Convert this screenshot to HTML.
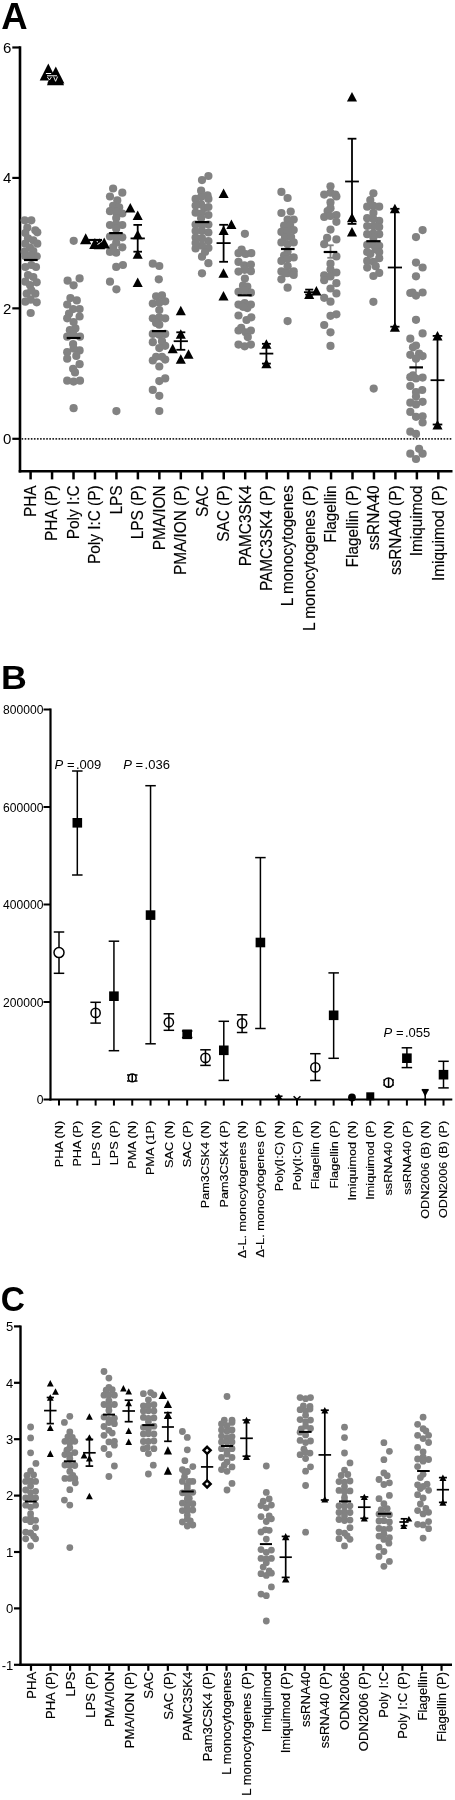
<!DOCTYPE html>
<html><head><meta charset="utf-8"><style>
html,body{margin:0;padding:0;background:#fff;}
body{width:455px;height:1800px;overflow:hidden;}
svg{display:block;font-family:"Liberation Sans",sans-serif;will-change:transform;}
</style></head><body>
<svg width="455" height="1800" viewBox="0 0 455 1800">
<rect width="455" height="1800" fill="#fff"/>
<text x="1.3" y="28.6" font-size="36.5" text-anchor="start" font-weight="bold">A</text>
<line x1="20" y1="46.3" x2="20" y2="472.5" stroke="#000" stroke-width="2.6"/>
<line x1="12.3" y1="47.48" x2="20" y2="47.48" stroke="#000" stroke-width="2.2"/>
<text x="11.3" y="52.88" font-size="15" text-anchor="end" font-weight="normal">6</text>
<line x1="12.3" y1="177.92" x2="20" y2="177.92" stroke="#000" stroke-width="2.2"/>
<text x="11.3" y="183.32" font-size="15" text-anchor="end" font-weight="normal">4</text>
<line x1="12.3" y1="308.36" x2="20" y2="308.36" stroke="#000" stroke-width="2.2"/>
<text x="11.3" y="313.76" font-size="15" text-anchor="end" font-weight="normal">2</text>
<line x1="12.3" y1="438.8" x2="20" y2="438.8" stroke="#000" stroke-width="2.2"/>
<text x="11.3" y="444.2" font-size="15" text-anchor="end" font-weight="normal">0</text>
<line x1="18.7" y1="471.3" x2="452.5" y2="471.3" stroke="#000" stroke-width="2.6"/>
<line x1="21.6" y1="438.9" x2="452.5" y2="438.9" stroke="#222" stroke-width="1.6" stroke-dasharray="1.6 1.48"/>
<line x1="30.6" y1="471" x2="30.6" y2="479.4" stroke="#000" stroke-width="2.5"/>
<text transform="translate(35.9,485.4) rotate(-90) scale(1,1.05)" stroke="#000" stroke-width="0.15" font-size="15.4" text-anchor="end" font-weight="normal">PHA</text>
<line x1="52.06" y1="471" x2="52.06" y2="479.4" stroke="#000" stroke-width="2.5"/>
<text transform="translate(57.36,485.4) rotate(-90) scale(1,1.05)" stroke="#000" stroke-width="0.15" font-size="15.4" text-anchor="end" font-weight="normal">PHA (P)</text>
<line x1="73.52" y1="471" x2="73.52" y2="479.4" stroke="#000" stroke-width="2.5"/>
<text transform="translate(78.82,485.4) rotate(-90) scale(1,1.05)" stroke="#000" stroke-width="0.15" font-size="15.4" text-anchor="end" font-weight="normal">Poly I:C</text>
<line x1="94.98" y1="471" x2="94.98" y2="479.4" stroke="#000" stroke-width="2.5"/>
<text transform="translate(100.28,485.4) rotate(-90) scale(1,1.05)" stroke="#000" stroke-width="0.15" font-size="15.4" text-anchor="end" font-weight="normal">Poly I:C (P)</text>
<line x1="116.44" y1="471" x2="116.44" y2="479.4" stroke="#000" stroke-width="2.5"/>
<text transform="translate(121.74,485.4) rotate(-90) scale(1,1.05)" stroke="#000" stroke-width="0.15" font-size="15.4" text-anchor="end" font-weight="normal">LPS</text>
<line x1="137.9" y1="471" x2="137.9" y2="479.4" stroke="#000" stroke-width="2.5"/>
<text transform="translate(143.2,485.4) rotate(-90) scale(1,1.05)" stroke="#000" stroke-width="0.15" font-size="15.4" text-anchor="end" font-weight="normal">LPS (P)</text>
<line x1="159.36" y1="471" x2="159.36" y2="479.4" stroke="#000" stroke-width="2.5"/>
<text transform="translate(164.66,485.4) rotate(-90) scale(1,1.05)" stroke="#000" stroke-width="0.15" font-size="15.4" text-anchor="end" font-weight="normal">PMA/ION</text>
<line x1="180.82" y1="471" x2="180.82" y2="479.4" stroke="#000" stroke-width="2.5"/>
<text transform="translate(186.12,485.4) rotate(-90) scale(1,1.05)" stroke="#000" stroke-width="0.15" font-size="15.4" text-anchor="end" font-weight="normal">PMA/ION (P)</text>
<line x1="202.28" y1="471" x2="202.28" y2="479.4" stroke="#000" stroke-width="2.5"/>
<text transform="translate(207.58,485.4) rotate(-90) scale(1,1.05)" stroke="#000" stroke-width="0.15" font-size="15.4" text-anchor="end" font-weight="normal">SAC</text>
<line x1="223.74" y1="471" x2="223.74" y2="479.4" stroke="#000" stroke-width="2.5"/>
<text transform="translate(229.04,485.4) rotate(-90) scale(1,1.05)" stroke="#000" stroke-width="0.15" font-size="15.4" text-anchor="end" font-weight="normal">SAC (P)</text>
<line x1="245.2" y1="471" x2="245.2" y2="479.4" stroke="#000" stroke-width="2.5"/>
<text transform="translate(250.5,485.4) rotate(-90) scale(1,1.05)" stroke="#000" stroke-width="0.15" font-size="15.4" text-anchor="end" font-weight="normal">PAMC3SK4</text>
<line x1="266.66" y1="471" x2="266.66" y2="479.4" stroke="#000" stroke-width="2.5"/>
<text transform="translate(271.96,485.4) rotate(-90) scale(1,1.05)" stroke="#000" stroke-width="0.15" font-size="15.4" text-anchor="end" font-weight="normal">PAMC3SK4 (P)</text>
<line x1="288.12" y1="471" x2="288.12" y2="479.4" stroke="#000" stroke-width="2.5"/>
<text transform="translate(293.42,485.4) rotate(-90) scale(1,1.05)" stroke="#000" stroke-width="0.15" font-size="15.4" text-anchor="end" font-weight="normal">L monocytogenes</text>
<line x1="309.58" y1="471" x2="309.58" y2="479.4" stroke="#000" stroke-width="2.5"/>
<text transform="translate(314.88,485.4) rotate(-90) scale(1,1.05)" stroke="#000" stroke-width="0.15" font-size="15.4" text-anchor="end" font-weight="normal">L monocytogenes (P)</text>
<line x1="331.04" y1="471" x2="331.04" y2="479.4" stroke="#000" stroke-width="2.5"/>
<text transform="translate(336.34,485.4) rotate(-90) scale(1,1.05)" stroke="#000" stroke-width="0.15" font-size="15.4" text-anchor="end" font-weight="normal">Flagellin</text>
<line x1="352.5" y1="471" x2="352.5" y2="479.4" stroke="#000" stroke-width="2.5"/>
<text transform="translate(357.8,485.4) rotate(-90) scale(1,1.05)" stroke="#000" stroke-width="0.15" font-size="15.4" text-anchor="end" font-weight="normal">Flagellin (P)</text>
<line x1="373.96" y1="471" x2="373.96" y2="479.4" stroke="#000" stroke-width="2.5"/>
<text transform="translate(379.26,485.4) rotate(-90) scale(1,1.05)" stroke="#000" stroke-width="0.15" font-size="15.4" text-anchor="end" font-weight="normal">ssRNA40</text>
<line x1="395.42" y1="471" x2="395.42" y2="479.4" stroke="#000" stroke-width="2.5"/>
<text transform="translate(400.72,485.4) rotate(-90) scale(1,1.05)" stroke="#000" stroke-width="0.15" font-size="15.4" text-anchor="end" font-weight="normal">ssRNA40 (P)</text>
<line x1="416.88" y1="471" x2="416.88" y2="479.4" stroke="#000" stroke-width="2.5"/>
<text transform="translate(422.18,485.4) rotate(-90) scale(1,1.05)" stroke="#000" stroke-width="0.15" font-size="15.4" text-anchor="end" font-weight="normal">Imiquimod</text>
<line x1="438.34" y1="471" x2="438.34" y2="479.4" stroke="#000" stroke-width="2.5"/>
<text transform="translate(443.64,485.4) rotate(-90) scale(1,1.05)" stroke="#000" stroke-width="0.15" font-size="15.4" text-anchor="end" font-weight="normal">Imiquimod (P)</text>
<circle cx="24.7" cy="220.3" r="4.1" fill="#828282"/>
<circle cx="31.3" cy="220.3" r="4.1" fill="#828282"/>
<circle cx="27.3" cy="227.7" r="4.1" fill="#828282"/>
<circle cx="35.3" cy="230.3" r="4.1" fill="#828282"/>
<circle cx="37.3" cy="232.3" r="4.1" fill="#828282"/>
<circle cx="25.3" cy="233" r="4.1" fill="#828282"/>
<circle cx="28" cy="238.3" r="4.1" fill="#828282"/>
<circle cx="33.3" cy="240.3" r="4.1" fill="#828282"/>
<circle cx="37.3" cy="243.7" r="4.1" fill="#828282"/>
<circle cx="25.3" cy="243.7" r="4.1" fill="#828282"/>
<circle cx="30" cy="247.7" r="4.1" fill="#828282"/>
<circle cx="24.7" cy="251.7" r="4.1" fill="#828282"/>
<circle cx="33.3" cy="251" r="4.1" fill="#828282"/>
<circle cx="36.7" cy="256.3" r="4.1" fill="#828282"/>
<circle cx="25.3" cy="256.3" r="4.1" fill="#828282"/>
<circle cx="30.7" cy="255.7" r="4.1" fill="#828282"/>
<circle cx="36" cy="267" r="4.1" fill="#828282"/>
<circle cx="25.3" cy="267" r="4.1" fill="#828282"/>
<circle cx="31.3" cy="265" r="4.1" fill="#828282"/>
<circle cx="28" cy="275" r="4.1" fill="#828282"/>
<circle cx="33.3" cy="277" r="4.1" fill="#828282"/>
<circle cx="25.3" cy="281.7" r="4.1" fill="#828282"/>
<circle cx="36.7" cy="282.3" r="4.1" fill="#828282"/>
<circle cx="30" cy="285" r="4.1" fill="#828282"/>
<circle cx="35.3" cy="293.7" r="4.1" fill="#828282"/>
<circle cx="26.7" cy="293.7" r="4.1" fill="#828282"/>
<circle cx="31.3" cy="290.3" r="4.1" fill="#828282"/>
<circle cx="25.3" cy="301.7" r="4.1" fill="#828282"/>
<circle cx="36.7" cy="302.3" r="4.1" fill="#828282"/>
<circle cx="30.7" cy="299.7" r="4.1" fill="#828282"/>
<circle cx="30.7" cy="313" r="4.1" fill="#828282"/>
<circle cx="73.7" cy="240.8" r="4.1" fill="#828282"/>
<circle cx="67.6" cy="280.7" r="4.1" fill="#828282"/>
<circle cx="79.6" cy="278.4" r="4.1" fill="#828282"/>
<circle cx="73.6" cy="285.3" r="4.1" fill="#828282"/>
<circle cx="70.4" cy="298.1" r="4.1" fill="#828282"/>
<circle cx="76.8" cy="300.4" r="4.1" fill="#828282"/>
<circle cx="67.2" cy="304.5" r="4.1" fill="#828282"/>
<circle cx="73.1" cy="309.1" r="4.1" fill="#828282"/>
<circle cx="79.6" cy="309.1" r="4.1" fill="#828282"/>
<circle cx="69" cy="313.7" r="4.1" fill="#828282"/>
<circle cx="67.2" cy="318.3" r="4.1" fill="#828282"/>
<circle cx="79.6" cy="316.5" r="4.1" fill="#828282"/>
<circle cx="73.6" cy="322" r="4.1" fill="#828282"/>
<circle cx="75.4" cy="328.4" r="4.1" fill="#828282"/>
<circle cx="69.9" cy="330.2" r="4.1" fill="#828282"/>
<circle cx="67.2" cy="336.7" r="4.1" fill="#828282"/>
<circle cx="80" cy="336.7" r="4.1" fill="#828282"/>
<circle cx="73.6" cy="334.8" r="4.1" fill="#828282"/>
<circle cx="73.1" cy="344" r="4.1" fill="#828282"/>
<circle cx="67.2" cy="352.2" r="4.1" fill="#828282"/>
<circle cx="79.6" cy="350.4" r="4.1" fill="#828282"/>
<circle cx="73.6" cy="348.6" r="4.1" fill="#828282"/>
<circle cx="67.2" cy="358.7" r="4.1" fill="#828282"/>
<circle cx="76.3" cy="355.9" r="4.1" fill="#828282"/>
<circle cx="79.6" cy="364.2" r="4.1" fill="#828282"/>
<circle cx="73.1" cy="368.8" r="4.1" fill="#828282"/>
<circle cx="75" cy="372.4" r="4.1" fill="#828282"/>
<circle cx="67.2" cy="380.7" r="4.1" fill="#828282"/>
<circle cx="73.6" cy="381.6" r="4.1" fill="#828282"/>
<circle cx="80" cy="380.7" r="4.1" fill="#828282"/>
<circle cx="73.6" cy="408.2" r="4.1" fill="#828282"/>
<circle cx="113.1" cy="188.5" r="4.1" fill="#828282"/>
<circle cx="122.3" cy="192.7" r="4.1" fill="#828282"/>
<circle cx="110" cy="196.5" r="4.1" fill="#828282"/>
<circle cx="117.3" cy="200.4" r="4.1" fill="#828282"/>
<circle cx="113.1" cy="205.8" r="4.1" fill="#828282"/>
<circle cx="119.2" cy="207.3" r="4.1" fill="#828282"/>
<circle cx="110" cy="211.2" r="4.1" fill="#828282"/>
<circle cx="122.3" cy="213.5" r="4.1" fill="#828282"/>
<circle cx="116.2" cy="211.9" r="4.1" fill="#828282"/>
<circle cx="116.2" cy="218.1" r="4.1" fill="#828282"/>
<circle cx="110" cy="225" r="4.1" fill="#828282"/>
<circle cx="122.3" cy="225" r="4.1" fill="#828282"/>
<circle cx="116.2" cy="224.2" r="4.1" fill="#828282"/>
<circle cx="116.2" cy="228.8" r="4.1" fill="#828282"/>
<circle cx="110" cy="236.5" r="4.1" fill="#828282"/>
<circle cx="122.3" cy="237.3" r="4.1" fill="#828282"/>
<circle cx="116.2" cy="237.3" r="4.1" fill="#828282"/>
<circle cx="116.2" cy="242.7" r="4.1" fill="#828282"/>
<circle cx="122.3" cy="247.3" r="4.1" fill="#828282"/>
<circle cx="110" cy="251.9" r="4.1" fill="#828282"/>
<circle cx="116.2" cy="252.7" r="4.1" fill="#828282"/>
<circle cx="113.1" cy="247.3" r="4.1" fill="#828282"/>
<circle cx="116.2" cy="266.9" r="4.1" fill="#828282"/>
<circle cx="122.9" cy="265" r="4.1" fill="#828282"/>
<circle cx="110" cy="281.7" r="4.1" fill="#828282"/>
<circle cx="116.4" cy="289.3" r="4.1" fill="#828282"/>
<circle cx="116.4" cy="411.1" r="4.1" fill="#828282"/>
<circle cx="152.8" cy="263.7" r="4.1" fill="#828282"/>
<circle cx="159.3" cy="266" r="4.1" fill="#828282"/>
<circle cx="158.8" cy="279.3" r="4.1" fill="#828282"/>
<circle cx="156.1" cy="296.3" r="4.1" fill="#828282"/>
<circle cx="162" cy="295.4" r="4.1" fill="#828282"/>
<circle cx="152.8" cy="303.6" r="4.1" fill="#828282"/>
<circle cx="165.2" cy="301.3" r="4.1" fill="#828282"/>
<circle cx="159.3" cy="302.7" r="4.1" fill="#828282"/>
<circle cx="159.3" cy="310" r="4.1" fill="#828282"/>
<circle cx="152.8" cy="318.3" r="4.1" fill="#828282"/>
<circle cx="165.2" cy="318.3" r="4.1" fill="#828282"/>
<circle cx="159.3" cy="317.4" r="4.1" fill="#828282"/>
<circle cx="159.3" cy="324.7" r="4.1" fill="#828282"/>
<circle cx="156.1" cy="322.9" r="4.1" fill="#828282"/>
<circle cx="152.8" cy="333.9" r="4.1" fill="#828282"/>
<circle cx="165.2" cy="333.9" r="4.1" fill="#828282"/>
<circle cx="159.3" cy="334.8" r="4.1" fill="#828282"/>
<circle cx="152.8" cy="342.2" r="4.1" fill="#828282"/>
<circle cx="162" cy="341.2" r="4.1" fill="#828282"/>
<circle cx="165.2" cy="345.8" r="4.1" fill="#828282"/>
<circle cx="159.3" cy="348.1" r="4.1" fill="#828282"/>
<circle cx="152.8" cy="360.5" r="4.1" fill="#828282"/>
<circle cx="162" cy="356.8" r="4.1" fill="#828282"/>
<circle cx="165.2" cy="359.6" r="4.1" fill="#828282"/>
<circle cx="156.1" cy="356.8" r="4.1" fill="#828282"/>
<circle cx="159.3" cy="366.5" r="4.1" fill="#828282"/>
<circle cx="159.3" cy="381.1" r="4.1" fill="#828282"/>
<circle cx="165.2" cy="378.4" r="4.1" fill="#828282"/>
<circle cx="152.8" cy="389.9" r="4.1" fill="#828282"/>
<circle cx="159.3" cy="395.8" r="4.1" fill="#828282"/>
<circle cx="159.3" cy="411" r="4.1" fill="#828282"/>
<circle cx="202" cy="180.1" r="4.1" fill="#828282"/>
<circle cx="208.4" cy="176" r="4.1" fill="#828282"/>
<circle cx="201.1" cy="190.7" r="4.1" fill="#828282"/>
<circle cx="207.5" cy="195.3" r="4.1" fill="#828282"/>
<circle cx="195.6" cy="198.9" r="4.1" fill="#828282"/>
<circle cx="208.4" cy="198.9" r="4.1" fill="#828282"/>
<circle cx="201.1" cy="197.1" r="4.1" fill="#828282"/>
<circle cx="201.1" cy="204.4" r="4.1" fill="#828282"/>
<circle cx="204.3" cy="208.1" r="4.1" fill="#828282"/>
<circle cx="195.6" cy="212.7" r="4.1" fill="#828282"/>
<circle cx="208.4" cy="215" r="4.1" fill="#828282"/>
<circle cx="201.1" cy="213.6" r="4.1" fill="#828282"/>
<circle cx="201.1" cy="218.2" r="4.1" fill="#828282"/>
<circle cx="195.6" cy="224.6" r="4.1" fill="#828282"/>
<circle cx="208.4" cy="224.6" r="4.1" fill="#828282"/>
<circle cx="202" cy="225.6" r="4.1" fill="#828282"/>
<circle cx="202" cy="231" r="4.1" fill="#828282"/>
<circle cx="195.6" cy="237.5" r="4.1" fill="#828282"/>
<circle cx="208.4" cy="241.1" r="4.1" fill="#828282"/>
<circle cx="202" cy="238.4" r="4.1" fill="#828282"/>
<circle cx="195.6" cy="248.5" r="4.1" fill="#828282"/>
<circle cx="208.4" cy="248" r="4.1" fill="#828282"/>
<circle cx="202" cy="245.7" r="4.1" fill="#828282"/>
<circle cx="202" cy="256.7" r="4.1" fill="#828282"/>
<circle cx="208.4" cy="263.2" r="4.1" fill="#828282"/>
<circle cx="202" cy="273.3" r="4.1" fill="#828282"/>
<circle cx="195.6" cy="205.5" r="4.1" fill="#828282"/>
<circle cx="208.4" cy="207" r="4.1" fill="#828282"/>
<circle cx="195.6" cy="231" r="4.1" fill="#828282"/>
<circle cx="208.4" cy="232.5" r="4.1" fill="#828282"/>
<circle cx="195.6" cy="243" r="4.1" fill="#828282"/>
<circle cx="205" cy="252" r="4.1" fill="#828282"/>
<circle cx="244.9" cy="233.8" r="4.1" fill="#828282"/>
<circle cx="241.6" cy="249.6" r="4.1" fill="#828282"/>
<circle cx="238.5" cy="253.1" r="4.1" fill="#828282"/>
<circle cx="245.6" cy="254" r="4.1" fill="#828282"/>
<circle cx="251.3" cy="253.1" r="4.1" fill="#828282"/>
<circle cx="238.5" cy="261.9" r="4.1" fill="#828282"/>
<circle cx="244.3" cy="265.4" r="4.1" fill="#828282"/>
<circle cx="250.9" cy="264.6" r="4.1" fill="#828282"/>
<circle cx="238.5" cy="271.6" r="4.1" fill="#828282"/>
<circle cx="250.9" cy="271.2" r="4.1" fill="#828282"/>
<circle cx="244.7" cy="269.8" r="4.1" fill="#828282"/>
<circle cx="244.9" cy="278.6" r="4.1" fill="#828282"/>
<circle cx="243" cy="285.7" r="4.1" fill="#828282"/>
<circle cx="247.3" cy="286.5" r="4.1" fill="#828282"/>
<circle cx="238.5" cy="291.8" r="4.1" fill="#828282"/>
<circle cx="250.9" cy="292.7" r="4.1" fill="#828282"/>
<circle cx="244.7" cy="290.5" r="4.1" fill="#828282"/>
<circle cx="238.5" cy="304.6" r="4.1" fill="#828282"/>
<circle cx="250.9" cy="304.6" r="4.1" fill="#828282"/>
<circle cx="244.7" cy="303.2" r="4.1" fill="#828282"/>
<circle cx="247.3" cy="308.1" r="4.1" fill="#828282"/>
<circle cx="243" cy="306.8" r="4.1" fill="#828282"/>
<circle cx="238.5" cy="315.5" r="4.1" fill="#828282"/>
<circle cx="246.5" cy="320" r="4.1" fill="#828282"/>
<circle cx="251.3" cy="317.3" r="4.1" fill="#828282"/>
<circle cx="241.2" cy="327.9" r="4.1" fill="#828282"/>
<circle cx="238.5" cy="330.5" r="4.1" fill="#828282"/>
<circle cx="250.9" cy="330.5" r="4.1" fill="#828282"/>
<circle cx="245.6" cy="332.3" r="4.1" fill="#828282"/>
<circle cx="247.8" cy="337.1" r="4.1" fill="#828282"/>
<circle cx="238.5" cy="344.6" r="4.1" fill="#828282"/>
<circle cx="244.7" cy="346.3" r="4.1" fill="#828282"/>
<circle cx="250.9" cy="344.6" r="4.1" fill="#828282"/>
<circle cx="281.4" cy="191.9" r="4.1" fill="#828282"/>
<circle cx="287.6" cy="198" r="4.1" fill="#828282"/>
<circle cx="281.4" cy="213" r="4.1" fill="#828282"/>
<circle cx="290.7" cy="211.6" r="4.1" fill="#828282"/>
<circle cx="287.6" cy="219.6" r="4.1" fill="#828282"/>
<circle cx="293.7" cy="219.6" r="4.1" fill="#828282"/>
<circle cx="284.1" cy="225.7" r="4.1" fill="#828282"/>
<circle cx="290.2" cy="225.7" r="4.1" fill="#828282"/>
<circle cx="281.4" cy="231.9" r="4.1" fill="#828282"/>
<circle cx="293.7" cy="230.1" r="4.1" fill="#828282"/>
<circle cx="287.6" cy="231" r="4.1" fill="#828282"/>
<circle cx="285" cy="237.1" r="4.1" fill="#828282"/>
<circle cx="291.1" cy="237.1" r="4.1" fill="#828282"/>
<circle cx="281.4" cy="242.4" r="4.1" fill="#828282"/>
<circle cx="293.7" cy="242.4" r="4.1" fill="#828282"/>
<circle cx="287.6" cy="244.2" r="4.1" fill="#828282"/>
<circle cx="287.6" cy="252.1" r="4.1" fill="#828282"/>
<circle cx="284.1" cy="255.6" r="4.1" fill="#828282"/>
<circle cx="293.7" cy="257.4" r="4.1" fill="#828282"/>
<circle cx="281.4" cy="260.9" r="4.1" fill="#828282"/>
<circle cx="287.6" cy="259.1" r="4.1" fill="#828282"/>
<circle cx="287.6" cy="266.2" r="4.1" fill="#828282"/>
<circle cx="281.4" cy="271.4" r="4.1" fill="#828282"/>
<circle cx="293.7" cy="271.4" r="4.1" fill="#828282"/>
<circle cx="287.6" cy="273.2" r="4.1" fill="#828282"/>
<circle cx="293.7" cy="275" r="4.1" fill="#828282"/>
<circle cx="281.4" cy="279.3" r="4.1" fill="#828282"/>
<circle cx="285" cy="273.2" r="4.1" fill="#828282"/>
<circle cx="287.6" cy="287.7" r="4.1" fill="#828282"/>
<circle cx="287.6" cy="321.1" r="4.1" fill="#828282"/>
<circle cx="330.5" cy="186.3" r="4.1" fill="#828282"/>
<circle cx="324.2" cy="194.6" r="4.1" fill="#828282"/>
<circle cx="330.5" cy="192.7" r="4.1" fill="#828282"/>
<circle cx="336.4" cy="196.5" r="4.1" fill="#828282"/>
<circle cx="335.4" cy="194.6" r="4.1" fill="#828282"/>
<circle cx="330.5" cy="202.4" r="4.1" fill="#828282"/>
<circle cx="330.5" cy="208.2" r="4.1" fill="#828282"/>
<circle cx="327.6" cy="211.1" r="4.1" fill="#828282"/>
<circle cx="324.2" cy="217" r="4.1" fill="#828282"/>
<circle cx="336.4" cy="215" r="4.1" fill="#828282"/>
<circle cx="330.5" cy="216" r="4.1" fill="#828282"/>
<circle cx="336.4" cy="221.8" r="4.1" fill="#828282"/>
<circle cx="330.5" cy="229.6" r="4.1" fill="#828282"/>
<circle cx="327.1" cy="237.9" r="4.1" fill="#828282"/>
<circle cx="336.4" cy="239.4" r="4.1" fill="#828282"/>
<circle cx="324.2" cy="244.2" r="4.1" fill="#828282"/>
<circle cx="336.4" cy="256.4" r="4.1" fill="#828282"/>
<circle cx="330.5" cy="263.7" r="4.1" fill="#828282"/>
<circle cx="330.5" cy="269.5" r="4.1" fill="#828282"/>
<circle cx="336.4" cy="272.5" r="4.1" fill="#828282"/>
<circle cx="324.2" cy="275.4" r="4.1" fill="#828282"/>
<circle cx="330.5" cy="276.4" r="4.1" fill="#828282"/>
<circle cx="324.2" cy="280.2" r="4.1" fill="#828282"/>
<circle cx="336.4" cy="283.2" r="4.1" fill="#828282"/>
<circle cx="330.5" cy="288.5" r="4.1" fill="#828282"/>
<circle cx="336.4" cy="293.4" r="4.1" fill="#828282"/>
<circle cx="324.2" cy="297.8" r="4.1" fill="#828282"/>
<circle cx="330.5" cy="301.7" r="4.1" fill="#828282"/>
<circle cx="330.5" cy="315.8" r="4.1" fill="#828282"/>
<circle cx="336.4" cy="314.3" r="4.1" fill="#828282"/>
<circle cx="324.2" cy="325" r="4.1" fill="#828282"/>
<circle cx="330.5" cy="332.3" r="4.1" fill="#828282"/>
<circle cx="330.5" cy="345.9" r="4.1" fill="#828282"/>
<circle cx="373.4" cy="193.3" r="4.1" fill="#828282"/>
<circle cx="370.3" cy="200" r="4.1" fill="#828282"/>
<circle cx="367.2" cy="206.7" r="4.1" fill="#828282"/>
<circle cx="379.2" cy="206.7" r="4.1" fill="#828282"/>
<circle cx="373.4" cy="205.8" r="4.1" fill="#828282"/>
<circle cx="373.4" cy="212.9" r="4.1" fill="#828282"/>
<circle cx="367.2" cy="218.2" r="4.1" fill="#828282"/>
<circle cx="379.2" cy="220.9" r="4.1" fill="#828282"/>
<circle cx="373.4" cy="219.1" r="4.1" fill="#828282"/>
<circle cx="373.4" cy="226.2" r="4.1" fill="#828282"/>
<circle cx="367.2" cy="234.2" r="4.1" fill="#828282"/>
<circle cx="379.2" cy="234.2" r="4.1" fill="#828282"/>
<circle cx="373.4" cy="233.3" r="4.1" fill="#828282"/>
<circle cx="373.4" cy="237.8" r="4.1" fill="#828282"/>
<circle cx="367.2" cy="244.9" r="4.1" fill="#828282"/>
<circle cx="379.2" cy="245.8" r="4.1" fill="#828282"/>
<circle cx="373.4" cy="244.9" r="4.1" fill="#828282"/>
<circle cx="375.7" cy="249.3" r="4.1" fill="#828282"/>
<circle cx="370.3" cy="253.8" r="4.1" fill="#828282"/>
<circle cx="367.2" cy="260.9" r="4.1" fill="#828282"/>
<circle cx="379.2" cy="258.2" r="4.1" fill="#828282"/>
<circle cx="373.4" cy="261.8" r="4.1" fill="#828282"/>
<circle cx="367.2" cy="267.6" r="4.1" fill="#828282"/>
<circle cx="375.7" cy="266.2" r="4.1" fill="#828282"/>
<circle cx="379.2" cy="272.9" r="4.1" fill="#828282"/>
<circle cx="373.4" cy="276" r="4.1" fill="#828282"/>
<circle cx="373.4" cy="301.8" r="4.1" fill="#828282"/>
<circle cx="373.7" cy="388.6" r="4.1" fill="#828282"/>
<circle cx="367.2" cy="226" r="4.1" fill="#828282"/>
<circle cx="379.2" cy="227" r="4.1" fill="#828282"/>
<circle cx="367.2" cy="252" r="4.1" fill="#828282"/>
<circle cx="379.2" cy="252" r="4.1" fill="#828282"/>
<circle cx="422.6" cy="230.1" r="4.1" fill="#828282"/>
<circle cx="416" cy="237.1" r="4.1" fill="#828282"/>
<circle cx="416" cy="262.6" r="4.1" fill="#828282"/>
<circle cx="422.6" cy="267.5" r="4.1" fill="#828282"/>
<circle cx="416" cy="276.3" r="4.1" fill="#828282"/>
<circle cx="410.3" cy="293" r="4.1" fill="#828282"/>
<circle cx="416" cy="295.6" r="4.1" fill="#828282"/>
<circle cx="422.6" cy="292.5" r="4.1" fill="#828282"/>
<circle cx="412.5" cy="292.5" r="4.1" fill="#828282"/>
<circle cx="416" cy="319.8" r="4.1" fill="#828282"/>
<circle cx="422.6" cy="333.4" r="4.1" fill="#828282"/>
<circle cx="410.3" cy="338.7" r="4.1" fill="#828282"/>
<circle cx="416" cy="345.5" r="4.1" fill="#828282"/>
<circle cx="413" cy="347.3" r="4.1" fill="#828282"/>
<circle cx="410.3" cy="354.8" r="4.1" fill="#828282"/>
<circle cx="419.1" cy="353.5" r="4.1" fill="#828282"/>
<circle cx="422.6" cy="356.1" r="4.1" fill="#828282"/>
<circle cx="416" cy="358.7" r="4.1" fill="#828282"/>
<circle cx="410.3" cy="377.2" r="4.1" fill="#828282"/>
<circle cx="413" cy="375.4" r="4.1" fill="#828282"/>
<circle cx="416" cy="378.5" r="4.1" fill="#828282"/>
<circle cx="422.6" cy="377.6" r="4.1" fill="#828282"/>
<circle cx="410.3" cy="386" r="4.1" fill="#828282"/>
<circle cx="422.2" cy="390" r="4.1" fill="#828282"/>
<circle cx="416" cy="392.1" r="4.1" fill="#828282"/>
<circle cx="416" cy="396.5" r="4.1" fill="#828282"/>
<circle cx="410.3" cy="402.7" r="4.1" fill="#828282"/>
<circle cx="416" cy="404.4" r="4.1" fill="#828282"/>
<circle cx="422.6" cy="401.8" r="4.1" fill="#828282"/>
<circle cx="410.3" cy="411.9" r="4.1" fill="#828282"/>
<circle cx="416" cy="416.8" r="4.1" fill="#828282"/>
<circle cx="422.6" cy="416.3" r="4.1" fill="#828282"/>
<circle cx="422.6" cy="422.5" r="4.1" fill="#828282"/>
<circle cx="410.3" cy="431.7" r="4.1" fill="#828282"/>
<circle cx="416" cy="433.9" r="4.1" fill="#828282"/>
<circle cx="419.1" cy="448.8" r="4.1" fill="#828282"/>
<circle cx="410.3" cy="453.7" r="4.1" fill="#828282"/>
<circle cx="422.6" cy="453.7" r="4.1" fill="#828282"/>
<circle cx="416" cy="459" r="4.1" fill="#828282"/>
<line x1="330.5" y1="245.3" x2="330.5" y2="257.8" stroke="#828282" stroke-width="1.8"/>
<line x1="327.3" y1="245.3" x2="333.7" y2="245.3" stroke="#828282" stroke-width="1.8"/>
<line x1="327.3" y1="257.8" x2="333.7" y2="257.8" stroke="#828282" stroke-width="1.8"/>
<line x1="416" y1="361.4" x2="416" y2="372.8" stroke="#828282" stroke-width="1.6"/>
<line x1="24" y1="260" x2="37.7" y2="260" stroke="#000" stroke-width="2.2"/>
<line x1="66.7" y1="338" x2="80.5" y2="338" stroke="#000" stroke-width="2.2"/>
<line x1="109.2" y1="233.1" x2="122.7" y2="233.1" stroke="#000" stroke-width="2.2"/>
<line x1="151.9" y1="331.1" x2="166.1" y2="331.1" stroke="#000" stroke-width="2.2"/>
<line x1="195.1" y1="222.1" x2="209.3" y2="222.1" stroke="#000" stroke-width="2.2"/>
<line x1="237.7" y1="295.3" x2="251.7" y2="295.3" stroke="#000" stroke-width="2.2"/>
<line x1="281" y1="249" x2="294.6" y2="249" stroke="#000" stroke-width="2.2"/>
<line x1="323.7" y1="252" x2="337.3" y2="252" stroke="#000" stroke-width="2.2"/>
<line x1="366.3" y1="241.2" x2="380.6" y2="241.2" stroke="#000" stroke-width="2.2"/>
<line x1="409.4" y1="367.4" x2="423" y2="367.4" stroke="#000" stroke-width="2.2"/>
<polygon points="48.3,63.6 39.7,80.4 56.9,80.4" fill="#000"/>
<polygon points="55.8,66.6 47.2,83.4 64.4,83.4" fill="#000"/>
<polygon points="55.5,68.5 46.9,85.3 64.1,85.3" fill="#000"/>
<line x1="45.9" y1="73.5" x2="51.2" y2="73.5" stroke="#fff" stroke-width="1"/>
<line x1="47" y1="75.8" x2="57" y2="75.8" stroke="#fff" stroke-width="1"/>
<polyline points="47.4,77 49.4,80 51.4,77" fill="none" stroke="#fff" stroke-width="0.9"/>
<polyline points="53.6,76.6 55.6,81.3 57.6,76.6" fill="none" stroke="#fff" stroke-width="0.9"/>
<polygon points="130.3,202.9 125.25,212.4 135.35,212.4" fill="#000"/>
<polygon points="137.7,210.6 132.65,220.1 142.75,220.1" fill="#000"/>
<polygon points="137.7,229.7 132.65,239.2 142.75,239.2" fill="#000"/>
<polygon points="137.7,249.3 132.65,258.8 142.75,258.8" fill="#000"/>
<polygon points="137.7,277.4 132.65,286.9 142.75,286.9" fill="#000"/>
<polygon points="180.8,305.8 175.75,315.3 185.85,315.3" fill="#000"/>
<polygon points="180.8,329.2 175.75,338.7 185.85,338.7" fill="#000"/>
<polygon points="172.7,343.8 167.65,353.3 177.75,353.3" fill="#000"/>
<polygon points="188.5,349.2 183.45,358.7 193.55,358.7" fill="#000"/>
<polygon points="180.8,354.2 175.75,363.7 185.85,363.7" fill="#000"/>
<polygon points="223.6,188.4 218.55,197.9 228.65,197.9" fill="#000"/>
<polygon points="231.4,219.6 226.35,229.1 236.45,229.1" fill="#000"/>
<polygon points="223.6,225.5 218.55,235 228.65,235" fill="#000"/>
<polygon points="223.5,268.2 218.45,277.7 228.55,277.7" fill="#000"/>
<polygon points="223.5,291.1 218.45,300.6 228.55,300.6" fill="#000"/>
<polygon points="266.4,339.2 261.35,348.7 271.45,348.7" fill="#000"/>
<polygon points="266.4,358.7 261.35,368.2 271.45,368.2" fill="#000"/>
<polygon points="316.4,285.9 311.35,295.4 321.45,295.4" fill="#000"/>
<polygon points="309.2,289.5 304.15,299 314.25,299" fill="#000"/>
<polygon points="352,92.1 346.95,101.6 357.05,101.6" fill="#000"/>
<polygon points="352,212.8 346.95,222.3 357.05,222.3" fill="#000"/>
<polygon points="352,227 346.95,236.5 357.05,236.5" fill="#000"/>
<polygon points="394.9,203.8 389.85,213.3 399.95,213.3" fill="#000"/>
<polygon points="394.9,322.2 389.85,331.7 399.95,331.7" fill="#000"/>
<polygon points="437.5,330.9 432.45,340.4 442.55,340.4" fill="#000"/>
<polygon points="437.5,420 432.45,429.5 442.55,429.5" fill="#000"/>
<polygon points="85.7,233.2 80,244.2 91.4,244.2" fill="#000"/>
<polygon points="94.9,238 89.2,249 100.6,249" fill="#000"/>
<polygon points="104.2,237.6 98.5,248.6 109.9,248.6" fill="#000"/>
<polygon points="99.5,238.2 93.8,249.2 105.2,249.2" fill="#000"/>
<line x1="88.5" y1="240" x2="102" y2="240" stroke="#000" stroke-width="2.2"/>
<line x1="97.5" y1="244.5" x2="100.5" y2="242.5" stroke="#fff" stroke-width="1"/>
<line x1="137.7" y1="224.9" x2="137.7" y2="251.7" stroke="#000" stroke-width="1.8"/>
<line x1="133.4" y1="224.9" x2="142" y2="224.9" stroke="#000" stroke-width="1.8"/>
<line x1="133.4" y1="251.7" x2="142" y2="251.7" stroke="#000" stroke-width="1.8"/>
<line x1="130.55" y1="238.4" x2="144.85" y2="238.4" stroke="#000" stroke-width="1.8"/>
<line x1="180.8" y1="332.3" x2="180.8" y2="349.8" stroke="#000" stroke-width="1.8"/>
<line x1="176.3" y1="332.3" x2="185.3" y2="332.3" stroke="#000" stroke-width="1.8"/>
<line x1="176.3" y1="349.8" x2="185.3" y2="349.8" stroke="#000" stroke-width="1.8"/>
<line x1="173.7" y1="341.2" x2="187.9" y2="341.2" stroke="#000" stroke-width="1.8"/>
<line x1="223.6" y1="224.8" x2="223.6" y2="261.8" stroke="#000" stroke-width="1.8"/>
<line x1="219.2" y1="224.8" x2="228" y2="224.8" stroke="#000" stroke-width="1.8"/>
<line x1="219.2" y1="261.8" x2="228" y2="261.8" stroke="#000" stroke-width="1.8"/>
<line x1="216.55" y1="243.1" x2="230.65" y2="243.1" stroke="#000" stroke-width="1.8"/>
<line x1="266.4" y1="343.8" x2="266.4" y2="363.6" stroke="#000" stroke-width="1.8"/>
<line x1="261.95" y1="343.8" x2="270.85" y2="343.8" stroke="#000" stroke-width="1.8"/>
<line x1="261.95" y1="363.6" x2="270.85" y2="363.6" stroke="#000" stroke-width="1.8"/>
<line x1="259.5" y1="353.6" x2="273.3" y2="353.6" stroke="#000" stroke-width="1.8"/>
<line x1="309.2" y1="289.6" x2="309.2" y2="294.6" stroke="#000" stroke-width="1.8"/>
<line x1="305.2" y1="289.6" x2="313.2" y2="289.6" stroke="#000" stroke-width="1.8"/>
<line x1="305.2" y1="294.6" x2="313.2" y2="294.6" stroke="#000" stroke-width="1.8"/>
<line x1="303.95" y1="292.2" x2="314.45" y2="292.2" stroke="#000" stroke-width="1.8"/>
<line x1="352" y1="138.7" x2="352" y2="223.9" stroke="#000" stroke-width="1.8"/>
<line x1="347.6" y1="138.7" x2="356.4" y2="138.7" stroke="#000" stroke-width="1.8"/>
<line x1="347.6" y1="223.9" x2="356.4" y2="223.9" stroke="#000" stroke-width="1.8"/>
<line x1="345.1" y1="181.5" x2="358.9" y2="181.5" stroke="#000" stroke-width="1.8"/>
<line x1="394.9" y1="208.8" x2="394.9" y2="326.7" stroke="#000" stroke-width="1.8"/>
<line x1="390.3" y1="208.8" x2="399.5" y2="208.8" stroke="#000" stroke-width="1.8"/>
<line x1="390.3" y1="326.7" x2="399.5" y2="326.7" stroke="#000" stroke-width="1.8"/>
<line x1="387.8" y1="267.5" x2="402" y2="267.5" stroke="#000" stroke-width="1.8"/>
<line x1="437.5" y1="335.9" x2="437.5" y2="424.5" stroke="#000" stroke-width="1.8"/>
<line x1="432.7" y1="335.9" x2="442.3" y2="335.9" stroke="#000" stroke-width="1.8"/>
<line x1="432.7" y1="424.5" x2="442.3" y2="424.5" stroke="#000" stroke-width="1.8"/>
<line x1="430.55" y1="380.2" x2="444.45" y2="380.2" stroke="#000" stroke-width="1.8"/>
<text transform="translate(1.0,689) scale(1.1,1)" font-size="32.5" font-weight="bold">B</text>
<line x1="50.5" y1="708.6" x2="50.5" y2="1100.5" stroke="#000" stroke-width="2.2"/>
<line x1="43.5" y1="709.5" x2="50.5" y2="709.5" stroke="#000" stroke-width="2"/>
<text transform="translate(43.4,714.3) scale(0.93,1)" font-size="13" text-anchor="end">800000</text>
<line x1="43.5" y1="807" x2="50.5" y2="807" stroke="#000" stroke-width="2"/>
<text transform="translate(43.4,811.8) scale(0.93,1)" font-size="13" text-anchor="end">600000</text>
<line x1="43.5" y1="904.5" x2="50.5" y2="904.5" stroke="#000" stroke-width="2"/>
<text transform="translate(43.4,909.3) scale(0.93,1)" font-size="13" text-anchor="end">400000</text>
<line x1="43.5" y1="1002" x2="50.5" y2="1002" stroke="#000" stroke-width="2"/>
<text transform="translate(43.4,1006.8) scale(0.93,1)" font-size="13" text-anchor="end">200000</text>
<line x1="43.5" y1="1099.5" x2="50.5" y2="1099.5" stroke="#000" stroke-width="2"/>
<text transform="translate(43.4,1104.3) scale(0.93,1)" font-size="13" text-anchor="end">0</text>
<line x1="49.4" y1="1099.5" x2="452.3" y2="1099.5" stroke="#000" stroke-width="2.2"/>
<line x1="59" y1="1099.5" x2="59" y2="1105.6" stroke="#000" stroke-width="2"/>
<text transform="translate(62.9,1120.8) rotate(-90) scale(1,0.93)" stroke="#000" stroke-width="0.15" font-size="12.7" text-anchor="end" font-weight="normal">PHA (N)</text>
<line x1="77.31" y1="1099.5" x2="77.31" y2="1105.6" stroke="#000" stroke-width="2"/>
<text transform="translate(81.21,1120.8) rotate(-90) scale(1,0.93)" stroke="#000" stroke-width="0.15" font-size="12.7" text-anchor="end" font-weight="normal">PHA (P)</text>
<line x1="95.62" y1="1099.5" x2="95.62" y2="1105.6" stroke="#000" stroke-width="2"/>
<text transform="translate(99.52,1120.8) rotate(-90) scale(1,0.93)" stroke="#000" stroke-width="0.15" font-size="12.7" text-anchor="end" font-weight="normal">LPS (N)</text>
<line x1="113.93" y1="1099.5" x2="113.93" y2="1105.6" stroke="#000" stroke-width="2"/>
<text transform="translate(117.83,1120.8) rotate(-90) scale(1,0.93)" stroke="#000" stroke-width="0.15" font-size="12.7" text-anchor="end" font-weight="normal">LPS (P)</text>
<line x1="132.24" y1="1099.5" x2="132.24" y2="1105.6" stroke="#000" stroke-width="2"/>
<text transform="translate(136.14,1120.8) rotate(-90) scale(1,0.93)" stroke="#000" stroke-width="0.15" font-size="12.7" text-anchor="end" font-weight="normal">PMA (N)</text>
<line x1="150.55" y1="1099.5" x2="150.55" y2="1105.6" stroke="#000" stroke-width="2"/>
<text transform="translate(154.45,1120.8) rotate(-90) scale(1,0.93)" stroke="#000" stroke-width="0.15" font-size="12.7" text-anchor="end" font-weight="normal">PMA (1P)</text>
<line x1="168.86" y1="1099.5" x2="168.86" y2="1105.6" stroke="#000" stroke-width="2"/>
<text transform="translate(172.76,1120.8) rotate(-90) scale(1,0.93)" stroke="#000" stroke-width="0.15" font-size="12.7" text-anchor="end" font-weight="normal">SAC (N)</text>
<line x1="187.17" y1="1099.5" x2="187.17" y2="1105.6" stroke="#000" stroke-width="2"/>
<text transform="translate(191.07,1120.8) rotate(-90) scale(1,0.93)" stroke="#000" stroke-width="0.15" font-size="12.7" text-anchor="end" font-weight="normal">SAC (P)</text>
<line x1="205.48" y1="1099.5" x2="205.48" y2="1105.6" stroke="#000" stroke-width="2"/>
<text transform="translate(209.38,1120.8) rotate(-90) scale(1,0.93)" stroke="#000" stroke-width="0.15" font-size="12.7" text-anchor="end" font-weight="normal">Pam3CSK4 (N)</text>
<line x1="223.79" y1="1099.5" x2="223.79" y2="1105.6" stroke="#000" stroke-width="2"/>
<text transform="translate(227.69,1120.8) rotate(-90) scale(1,0.93)" stroke="#000" stroke-width="0.15" font-size="12.7" text-anchor="end" font-weight="normal">Pam3CSK4 (P)</text>
<line x1="242.1" y1="1099.5" x2="242.1" y2="1105.6" stroke="#000" stroke-width="2"/>
<text transform="translate(246,1120.8) rotate(-90) scale(1,0.93)" stroke="#000" stroke-width="0.15" font-size="12.7" text-anchor="end" font-weight="normal">&#916;-L. monocytogenes (N)</text>
<line x1="260.41" y1="1099.5" x2="260.41" y2="1105.6" stroke="#000" stroke-width="2"/>
<text transform="translate(264.31,1120.8) rotate(-90) scale(1,0.93)" stroke="#000" stroke-width="0.15" font-size="12.7" text-anchor="end" font-weight="normal">&#916;-L. monocytogenes (P)</text>
<line x1="278.72" y1="1099.5" x2="278.72" y2="1105.6" stroke="#000" stroke-width="2"/>
<text transform="translate(282.62,1120.8) rotate(-90) scale(1,0.93)" stroke="#000" stroke-width="0.15" font-size="12.7" text-anchor="end" font-weight="normal">Poly(I:C) (N)</text>
<line x1="297.03" y1="1099.5" x2="297.03" y2="1105.6" stroke="#000" stroke-width="2"/>
<text transform="translate(300.93,1120.8) rotate(-90) scale(1,0.93)" stroke="#000" stroke-width="0.15" font-size="12.7" text-anchor="end" font-weight="normal">Poly(I:C) (P)</text>
<line x1="315.34" y1="1099.5" x2="315.34" y2="1105.6" stroke="#000" stroke-width="2"/>
<text transform="translate(319.24,1120.8) rotate(-90) scale(1,0.93)" stroke="#000" stroke-width="0.15" font-size="12.7" text-anchor="end" font-weight="normal">Flagellin (N)</text>
<line x1="333.65" y1="1099.5" x2="333.65" y2="1105.6" stroke="#000" stroke-width="2"/>
<text transform="translate(337.55,1120.8) rotate(-90) scale(1,0.93)" stroke="#000" stroke-width="0.15" font-size="12.7" text-anchor="end" font-weight="normal">Flagellin (P)</text>
<line x1="351.96" y1="1099.5" x2="351.96" y2="1105.6" stroke="#000" stroke-width="2"/>
<text transform="translate(355.86,1120.8) rotate(-90) scale(1,0.93)" stroke="#000" stroke-width="0.15" font-size="12.7" text-anchor="end" font-weight="normal">Imiquimod (N)</text>
<line x1="370.27" y1="1099.5" x2="370.27" y2="1105.6" stroke="#000" stroke-width="2"/>
<text transform="translate(374.17,1120.8) rotate(-90) scale(1,0.93)" stroke="#000" stroke-width="0.15" font-size="12.7" text-anchor="end" font-weight="normal">Imiquimod (P)</text>
<line x1="388.58" y1="1099.5" x2="388.58" y2="1105.6" stroke="#000" stroke-width="2"/>
<text transform="translate(392.48,1120.8) rotate(-90) scale(1,0.93)" stroke="#000" stroke-width="0.15" font-size="12.7" text-anchor="end" font-weight="normal">ssRNA40 (N)</text>
<line x1="406.89" y1="1099.5" x2="406.89" y2="1105.6" stroke="#000" stroke-width="2"/>
<text transform="translate(410.79,1120.8) rotate(-90) scale(1,0.93)" stroke="#000" stroke-width="0.15" font-size="12.7" text-anchor="end" font-weight="normal">ssRNA40 (P)</text>
<line x1="425.2" y1="1099.5" x2="425.2" y2="1105.6" stroke="#000" stroke-width="2"/>
<text transform="translate(429.1,1120.8) rotate(-90) scale(1,0.93)" stroke="#000" stroke-width="0.15" font-size="12.7" text-anchor="end" font-weight="normal">ODN2006 (B) (N)</text>
<line x1="443.51" y1="1099.5" x2="443.51" y2="1105.6" stroke="#000" stroke-width="2"/>
<text transform="translate(447.41,1120.8) rotate(-90) scale(1,0.93)" stroke="#000" stroke-width="0.15" font-size="12.7" text-anchor="end" font-weight="normal">ODN2006 (B) (P)</text>
<line x1="59" y1="932" x2="59" y2="973.3" stroke="#000" stroke-width="1.5"/>
<line x1="53.75" y1="932" x2="64.25" y2="932" stroke="#000" stroke-width="1.5"/>
<line x1="53.75" y1="973.3" x2="64.25" y2="973.3" stroke="#000" stroke-width="1.5"/>
<circle cx="59" cy="952.6" r="5" fill="#fff" stroke="#000" stroke-width="1.5"/>
<line x1="77.31" y1="771" x2="77.31" y2="875" stroke="#000" stroke-width="1.5"/>
<line x1="72.06" y1="771" x2="82.56" y2="771" stroke="#000" stroke-width="1.5"/>
<line x1="72.06" y1="875" x2="82.56" y2="875" stroke="#000" stroke-width="1.5"/>
<rect x="72.51" y="818" width="9.6" height="9.6" fill="#000"/>
<line x1="95.62" y1="1002.3" x2="95.62" y2="1023.1" stroke="#000" stroke-width="1.5"/>
<line x1="90.37" y1="1002.3" x2="100.87" y2="1002.3" stroke="#000" stroke-width="1.5"/>
<line x1="90.37" y1="1023.1" x2="100.87" y2="1023.1" stroke="#000" stroke-width="1.5"/>
<circle cx="95.62" cy="1012.9" r="4.6" fill="#fff" stroke="#000" stroke-width="1.5"/>
<line x1="95.62" y1="1008.3" x2="95.62" y2="1017.5" stroke="#000" stroke-width="1.5"/>
<line x1="113.93" y1="941.2" x2="113.93" y2="1050.7" stroke="#000" stroke-width="1.5"/>
<line x1="108.68" y1="941.2" x2="119.18" y2="941.2" stroke="#000" stroke-width="1.5"/>
<line x1="108.68" y1="1050.7" x2="119.18" y2="1050.7" stroke="#000" stroke-width="1.5"/>
<rect x="109.13" y="991.4" width="9.6" height="9.6" fill="#000"/>
<line x1="132.24" y1="1075" x2="132.24" y2="1081" stroke="#000" stroke-width="1.5"/>
<line x1="126.99" y1="1075" x2="137.49" y2="1075" stroke="#000" stroke-width="1.5"/>
<line x1="126.99" y1="1081" x2="137.49" y2="1081" stroke="#000" stroke-width="1.5"/>
<circle cx="132.24" cy="1077.9" r="3.9" fill="#fff" stroke="#000" stroke-width="1.5"/>
<line x1="132.24" y1="1074" x2="132.24" y2="1081.8" stroke="#000" stroke-width="1.5"/>
<line x1="150.55" y1="785.7" x2="150.55" y2="1043.8" stroke="#000" stroke-width="1.5"/>
<line x1="145.3" y1="785.7" x2="155.8" y2="785.7" stroke="#000" stroke-width="1.5"/>
<line x1="145.3" y1="1043.8" x2="155.8" y2="1043.8" stroke="#000" stroke-width="1.5"/>
<rect x="145.75" y="910.3" width="9.6" height="9.6" fill="#000"/>
<line x1="168.86" y1="1013.8" x2="168.86" y2="1030.3" stroke="#000" stroke-width="1.5"/>
<line x1="163.61" y1="1013.8" x2="174.11" y2="1013.8" stroke="#000" stroke-width="1.5"/>
<line x1="163.61" y1="1030.3" x2="174.11" y2="1030.3" stroke="#000" stroke-width="1.5"/>
<circle cx="168.86" cy="1022.3" r="4.6" fill="#fff" stroke="#000" stroke-width="1.5"/>
<line x1="168.86" y1="1017.7" x2="168.86" y2="1026.9" stroke="#000" stroke-width="1.5"/>
<line x1="187.17" y1="1031" x2="187.17" y2="1037.5" stroke="#000" stroke-width="1.5"/>
<line x1="181.92" y1="1031" x2="192.42" y2="1031" stroke="#000" stroke-width="1.5"/>
<line x1="181.92" y1="1037.5" x2="192.42" y2="1037.5" stroke="#000" stroke-width="1.5"/>
<rect x="182.37" y="1029.5" width="9.6" height="9.6" fill="#000"/>
<line x1="205.48" y1="1049.8" x2="205.48" y2="1065.4" stroke="#000" stroke-width="1.5"/>
<line x1="200.23" y1="1049.8" x2="210.73" y2="1049.8" stroke="#000" stroke-width="1.5"/>
<line x1="200.23" y1="1065.4" x2="210.73" y2="1065.4" stroke="#000" stroke-width="1.5"/>
<circle cx="205.48" cy="1057.9" r="4.6" fill="#fff" stroke="#000" stroke-width="1.5"/>
<line x1="205.48" y1="1053.3" x2="205.48" y2="1062.5" stroke="#000" stroke-width="1.5"/>
<line x1="223.79" y1="1021.3" x2="223.79" y2="1080.4" stroke="#000" stroke-width="1.5"/>
<line x1="218.54" y1="1021.3" x2="229.04" y2="1021.3" stroke="#000" stroke-width="1.5"/>
<line x1="218.54" y1="1080.4" x2="229.04" y2="1080.4" stroke="#000" stroke-width="1.5"/>
<rect x="218.99" y="1045.5" width="9.6" height="9.6" fill="#000"/>
<line x1="242.1" y1="1014.8" x2="242.1" y2="1032.5" stroke="#000" stroke-width="1.5"/>
<line x1="236.85" y1="1014.8" x2="247.35" y2="1014.8" stroke="#000" stroke-width="1.5"/>
<line x1="236.85" y1="1032.5" x2="247.35" y2="1032.5" stroke="#000" stroke-width="1.5"/>
<circle cx="242.1" cy="1023.4" r="4.6" fill="#fff" stroke="#000" stroke-width="1.5"/>
<line x1="242.1" y1="1018.8" x2="242.1" y2="1028" stroke="#000" stroke-width="1.5"/>
<line x1="260.41" y1="857.6" x2="260.41" y2="1028.5" stroke="#000" stroke-width="1.5"/>
<line x1="255.16" y1="857.6" x2="265.66" y2="857.6" stroke="#000" stroke-width="1.5"/>
<line x1="255.16" y1="1028.5" x2="265.66" y2="1028.5" stroke="#000" stroke-width="1.5"/>
<rect x="255.61" y="937.7" width="9.6" height="9.6" fill="#000"/>
<line x1="315.34" y1="1053.7" x2="315.34" y2="1080.5" stroke="#000" stroke-width="1.5"/>
<line x1="310.09" y1="1053.7" x2="320.59" y2="1053.7" stroke="#000" stroke-width="1.5"/>
<line x1="310.09" y1="1080.5" x2="320.59" y2="1080.5" stroke="#000" stroke-width="1.5"/>
<circle cx="315.34" cy="1067.4" r="4.6" fill="#fff" stroke="#000" stroke-width="1.5"/>
<line x1="315.34" y1="1062.8" x2="315.34" y2="1072" stroke="#000" stroke-width="1.5"/>
<line x1="333.65" y1="972.9" x2="333.65" y2="1058.3" stroke="#000" stroke-width="1.5"/>
<line x1="328.4" y1="972.9" x2="338.9" y2="972.9" stroke="#000" stroke-width="1.5"/>
<line x1="328.4" y1="1058.3" x2="338.9" y2="1058.3" stroke="#000" stroke-width="1.5"/>
<rect x="328.85" y="1010.5" width="9.6" height="9.6" fill="#000"/>
<line x1="388.58" y1="1080" x2="388.58" y2="1085" stroke="#000" stroke-width="1.5"/>
<line x1="383.33" y1="1080" x2="393.83" y2="1080" stroke="#000" stroke-width="1.5"/>
<line x1="383.33" y1="1085" x2="393.83" y2="1085" stroke="#000" stroke-width="1.5"/>
<circle cx="388.58" cy="1082.6" r="4.6" fill="#fff" stroke="#000" stroke-width="1.5"/>
<line x1="388.58" y1="1078" x2="388.58" y2="1087.2" stroke="#000" stroke-width="1.5"/>
<line x1="406.89" y1="1047.8" x2="406.89" y2="1067.6" stroke="#000" stroke-width="1.5"/>
<line x1="401.64" y1="1047.8" x2="412.14" y2="1047.8" stroke="#000" stroke-width="1.5"/>
<line x1="401.64" y1="1067.6" x2="412.14" y2="1067.6" stroke="#000" stroke-width="1.5"/>
<rect x="402.09" y="1053.4" width="9.6" height="9.6" fill="#000"/>
<line x1="443.51" y1="1061.3" x2="443.51" y2="1087.9" stroke="#000" stroke-width="1.5"/>
<line x1="438.26" y1="1061.3" x2="448.76" y2="1061.3" stroke="#000" stroke-width="1.5"/>
<line x1="438.26" y1="1087.9" x2="448.76" y2="1087.9" stroke="#000" stroke-width="1.5"/>
<rect x="438.71" y="1069.9" width="9.6" height="9.6" fill="#000"/>
<polygon points="278.72,1093.2 275.02,1099.6 282.42,1099.6" fill="#000"/>
<line x1="274.92" y1="1096.2" x2="282.52" y2="1096.2" stroke="#000" stroke-width="1.6"/>
<line x1="293.63" y1="1096.2" x2="297.03" y2="1099.5" stroke="#000" stroke-width="1.6"/>
<line x1="300.43" y1="1096.2" x2="297.03" y2="1099.5" stroke="#000" stroke-width="1.6"/>
<line x1="297.03" y1="1099.5" x2="297.03" y2="1103" stroke="#000" stroke-width="1.6"/>
<circle cx="351.96" cy="1097.5" r="3.9" fill="#000"/>
<rect x="366.27" y="1092.3" width="8" height="8" fill="#000"/>
<polygon points="421.8,1090 428.6,1090 425.2,1096.8" fill="#000"/>
<line x1="421.7" y1="1089.7" x2="428.7" y2="1089.7" stroke="#000" stroke-width="1.5"/>
<line x1="425.2" y1="1090" x2="425.2" y2="1099" stroke="#000" stroke-width="1.5"/>
<text x="54.6" y="768.6" font-size="13" text-anchor="start" font-weight="normal"><tspan font-style="italic">P</tspan> =<tspan dx="1.5">.009</tspan></text>
<text x="123.2" y="768.6" font-size="13" text-anchor="start" font-weight="normal"><tspan font-style="italic">P</tspan> =<tspan dx="1.5">.036</tspan></text>
<text x="383.6" y="1036.7" font-size="13" text-anchor="start" font-weight="normal"><tspan font-style="italic">P</tspan> =<tspan dx="1.5">.055</tspan></text>
<text transform="translate(0.7,1310.6) scale(0.93,1)" font-size="36" font-weight="bold">C</text>
<line x1="20.5" y1="1325.5" x2="20.5" y2="1665.9" stroke="#000" stroke-width="2.4"/>
<line x1="14" y1="1326.4" x2="20.5" y2="1326.4" stroke="#000" stroke-width="2.2"/>
<text x="13.2" y="1331.1" font-size="13" text-anchor="end" font-weight="normal">5</text>
<line x1="14" y1="1382.8" x2="20.5" y2="1382.8" stroke="#000" stroke-width="2.2"/>
<text x="13.2" y="1387.5" font-size="13" text-anchor="end" font-weight="normal">4</text>
<line x1="14" y1="1439.2" x2="20.5" y2="1439.2" stroke="#000" stroke-width="2.2"/>
<text x="13.2" y="1443.9" font-size="13" text-anchor="end" font-weight="normal">3</text>
<line x1="14" y1="1495.6" x2="20.5" y2="1495.6" stroke="#000" stroke-width="2.2"/>
<text x="13.2" y="1500.3" font-size="13" text-anchor="end" font-weight="normal">2</text>
<line x1="14" y1="1552" x2="20.5" y2="1552" stroke="#000" stroke-width="2.2"/>
<text x="13.2" y="1556.7" font-size="13" text-anchor="end" font-weight="normal">1</text>
<line x1="14" y1="1608.4" x2="20.5" y2="1608.4" stroke="#000" stroke-width="2.2"/>
<text x="13.2" y="1613.1" font-size="13" text-anchor="end" font-weight="normal">0</text>
<line x1="14" y1="1664.8" x2="20.5" y2="1664.8" stroke="#000" stroke-width="2.2"/>
<text x="13.2" y="1669.5" font-size="13" text-anchor="end" font-weight="normal">-1</text>
<line x1="19.3" y1="1664.8" x2="452" y2="1664.8" stroke="#000" stroke-width="2.4"/>
<line x1="31" y1="1664.8" x2="31" y2="1670.8" stroke="#000" stroke-width="2.2"/>
<text transform="translate(35.9,1671.8) rotate(-90) scale(1,1)" stroke="#000" stroke-width="0.15" font-size="13.1" text-anchor="end" font-weight="normal">PHA</text>
<line x1="50.55" y1="1664.8" x2="50.55" y2="1670.8" stroke="#000" stroke-width="2.2"/>
<text transform="translate(55.45,1671.8) rotate(-90) scale(1,1)" stroke="#000" stroke-width="0.15" font-size="13.1" text-anchor="end" font-weight="normal">PHA (P)</text>
<line x1="70.1" y1="1664.8" x2="70.1" y2="1670.8" stroke="#000" stroke-width="2.2"/>
<text transform="translate(75,1671.8) rotate(-90) scale(1,1)" stroke="#000" stroke-width="0.15" font-size="13.1" text-anchor="end" font-weight="normal">LPS</text>
<line x1="89.65" y1="1664.8" x2="89.65" y2="1670.8" stroke="#000" stroke-width="2.2"/>
<text transform="translate(94.55,1671.8) rotate(-90) scale(1,1)" stroke="#000" stroke-width="0.15" font-size="13.1" text-anchor="end" font-weight="normal">LPS (P)</text>
<line x1="109.2" y1="1664.8" x2="109.2" y2="1670.8" stroke="#000" stroke-width="2.2"/>
<text transform="translate(114.1,1671.8) rotate(-90) scale(1,1)" stroke="#000" stroke-width="0.15" font-size="13.1" text-anchor="end" font-weight="normal">PMA/ION</text>
<line x1="128.75" y1="1664.8" x2="128.75" y2="1670.8" stroke="#000" stroke-width="2.2"/>
<text transform="translate(133.65,1671.8) rotate(-90) scale(1,1)" stroke="#000" stroke-width="0.15" font-size="13.1" text-anchor="end" font-weight="normal">PMA/ION (P)</text>
<line x1="148.3" y1="1664.8" x2="148.3" y2="1670.8" stroke="#000" stroke-width="2.2"/>
<text transform="translate(153.2,1671.8) rotate(-90) scale(1,1)" stroke="#000" stroke-width="0.15" font-size="13.1" text-anchor="end" font-weight="normal">SAC</text>
<line x1="167.85" y1="1664.8" x2="167.85" y2="1670.8" stroke="#000" stroke-width="2.2"/>
<text transform="translate(172.75,1671.8) rotate(-90) scale(1,1)" stroke="#000" stroke-width="0.15" font-size="13.1" text-anchor="end" font-weight="normal">SAC (P)</text>
<line x1="187.4" y1="1664.8" x2="187.4" y2="1670.8" stroke="#000" stroke-width="2.2"/>
<text transform="translate(192.3,1671.8) rotate(-90) scale(1,1)" stroke="#000" stroke-width="0.15" font-size="13.1" text-anchor="end" font-weight="normal">PAMC3SK4</text>
<line x1="206.95" y1="1664.8" x2="206.95" y2="1670.8" stroke="#000" stroke-width="2.2"/>
<text transform="translate(211.85,1671.8) rotate(-90) scale(1,1)" stroke="#000" stroke-width="0.15" font-size="13.1" text-anchor="end" font-weight="normal">Pam3CSK4 (P)</text>
<line x1="226.5" y1="1664.8" x2="226.5" y2="1670.8" stroke="#000" stroke-width="2.2"/>
<text transform="translate(231.4,1671.8) rotate(-90) scale(1,1)" stroke="#000" stroke-width="0.15" font-size="13.1" text-anchor="end" font-weight="normal">L monocytogenes</text>
<line x1="246.05" y1="1664.8" x2="246.05" y2="1670.8" stroke="#000" stroke-width="2.2"/>
<text transform="translate(250.95,1671.8) rotate(-90) scale(1,1)" stroke="#000" stroke-width="0.15" font-size="13.1" text-anchor="end" font-weight="normal">L monocytogenes (P)</text>
<line x1="265.6" y1="1664.8" x2="265.6" y2="1670.8" stroke="#000" stroke-width="2.2"/>
<text transform="translate(270.5,1671.8) rotate(-90) scale(1,1)" stroke="#000" stroke-width="0.15" font-size="13.1" text-anchor="end" font-weight="normal">Imiquimod</text>
<line x1="285.15" y1="1664.8" x2="285.15" y2="1670.8" stroke="#000" stroke-width="2.2"/>
<text transform="translate(290.05,1671.8) rotate(-90) scale(1,1)" stroke="#000" stroke-width="0.15" font-size="13.1" text-anchor="end" font-weight="normal">Imiquimod (P)</text>
<line x1="304.7" y1="1664.8" x2="304.7" y2="1670.8" stroke="#000" stroke-width="2.2"/>
<text transform="translate(309.6,1671.8) rotate(-90) scale(1,1)" stroke="#000" stroke-width="0.15" font-size="13.1" text-anchor="end" font-weight="normal">ssRNA40</text>
<line x1="324.25" y1="1664.8" x2="324.25" y2="1670.8" stroke="#000" stroke-width="2.2"/>
<text transform="translate(329.15,1671.8) rotate(-90) scale(1,1)" stroke="#000" stroke-width="0.15" font-size="13.1" text-anchor="end" font-weight="normal">ssRNA40 (P)</text>
<line x1="343.8" y1="1664.8" x2="343.8" y2="1670.8" stroke="#000" stroke-width="2.2"/>
<text transform="translate(348.7,1671.8) rotate(-90) scale(1,1)" stroke="#000" stroke-width="0.15" font-size="13.1" text-anchor="end" font-weight="normal">ODN2006</text>
<line x1="363.35" y1="1664.8" x2="363.35" y2="1670.8" stroke="#000" stroke-width="2.2"/>
<text transform="translate(368.25,1671.8) rotate(-90) scale(1,1)" stroke="#000" stroke-width="0.15" font-size="13.1" text-anchor="end" font-weight="normal">ODN2006 (P)</text>
<line x1="382.9" y1="1664.8" x2="382.9" y2="1670.8" stroke="#000" stroke-width="2.2"/>
<text transform="translate(387.8,1671.8) rotate(-90) scale(1,1)" stroke="#000" stroke-width="0.15" font-size="13.1" text-anchor="end" font-weight="normal">Poly I:C</text>
<line x1="402.45" y1="1664.8" x2="402.45" y2="1670.8" stroke="#000" stroke-width="2.2"/>
<text transform="translate(407.35,1671.8) rotate(-90) scale(1,1)" stroke="#000" stroke-width="0.15" font-size="13.1" text-anchor="end" font-weight="normal">Poly I:C (P)</text>
<line x1="422" y1="1664.8" x2="422" y2="1670.8" stroke="#000" stroke-width="2.2"/>
<text transform="translate(426.9,1671.8) rotate(-90) scale(1,1)" stroke="#000" stroke-width="0.15" font-size="13.1" text-anchor="end" font-weight="normal">Flagellin</text>
<line x1="441.55" y1="1664.8" x2="441.55" y2="1670.8" stroke="#000" stroke-width="2.2"/>
<text transform="translate(446.45,1671.8) rotate(-90) scale(1,1)" stroke="#000" stroke-width="0.15" font-size="13.1" text-anchor="end" font-weight="normal">Flagellin (P)</text>
<circle cx="30.6" cy="1427" r="3.4" fill="#828282"/>
<circle cx="30.6" cy="1437.9" r="3.4" fill="#828282"/>
<circle cx="30.6" cy="1452.8" r="3.4" fill="#828282"/>
<circle cx="35.9" cy="1463.4" r="3.4" fill="#828282"/>
<circle cx="30.6" cy="1470.9" r="3.4" fill="#828282"/>
<circle cx="27" cy="1475.5" r="3.4" fill="#828282"/>
<circle cx="33.6" cy="1474.8" r="3.4" fill="#828282"/>
<circle cx="25.7" cy="1481.4" r="3.4" fill="#828282"/>
<circle cx="35.6" cy="1481.4" r="3.4" fill="#828282"/>
<circle cx="30.6" cy="1480.8" r="3.4" fill="#828282"/>
<circle cx="30.6" cy="1486" r="3.4" fill="#828282"/>
<circle cx="25.7" cy="1490" r="3.4" fill="#828282"/>
<circle cx="35.6" cy="1491.3" r="3.4" fill="#828282"/>
<circle cx="30.6" cy="1492.6" r="3.4" fill="#828282"/>
<circle cx="30.6" cy="1497.3" r="3.4" fill="#828282"/>
<circle cx="25.7" cy="1505.2" r="3.4" fill="#828282"/>
<circle cx="35.6" cy="1505.2" r="3.4" fill="#828282"/>
<circle cx="30.6" cy="1507.1" r="3.4" fill="#828282"/>
<circle cx="30.6" cy="1513.7" r="3.4" fill="#828282"/>
<circle cx="30.6" cy="1517.7" r="3.4" fill="#828282"/>
<circle cx="25.7" cy="1519.7" r="3.4" fill="#828282"/>
<circle cx="35.6" cy="1520.3" r="3.4" fill="#828282"/>
<circle cx="30.6" cy="1521.7" r="3.4" fill="#828282"/>
<circle cx="35.6" cy="1527.6" r="3.4" fill="#828282"/>
<circle cx="25.7" cy="1532.2" r="3.4" fill="#828282"/>
<circle cx="30.6" cy="1532.9" r="3.4" fill="#828282"/>
<circle cx="25.7" cy="1538.8" r="3.4" fill="#828282"/>
<circle cx="35.6" cy="1538.8" r="3.4" fill="#828282"/>
<circle cx="33.6" cy="1536.2" r="3.4" fill="#828282"/>
<circle cx="30.6" cy="1546" r="3.4" fill="#828282"/>
<circle cx="25.7" cy="1498" r="3.4" fill="#828282"/>
<circle cx="35.6" cy="1498" r="3.4" fill="#828282"/>
<circle cx="69.8" cy="1416.3" r="3.4" fill="#828282"/>
<circle cx="64.4" cy="1422.4" r="3.4" fill="#828282"/>
<circle cx="69.8" cy="1431.9" r="3.4" fill="#828282"/>
<circle cx="67.9" cy="1436.8" r="3.4" fill="#828282"/>
<circle cx="72.3" cy="1437.3" r="3.4" fill="#828282"/>
<circle cx="64.9" cy="1441.3" r="3.4" fill="#828282"/>
<circle cx="74.8" cy="1441.3" r="3.4" fill="#828282"/>
<circle cx="69.8" cy="1442.8" r="3.4" fill="#828282"/>
<circle cx="69.8" cy="1447.7" r="3.4" fill="#828282"/>
<circle cx="66.9" cy="1450.2" r="3.4" fill="#828282"/>
<circle cx="74.8" cy="1452.6" r="3.4" fill="#828282"/>
<circle cx="64.9" cy="1454.6" r="3.4" fill="#828282"/>
<circle cx="69.8" cy="1454.6" r="3.4" fill="#828282"/>
<circle cx="69.8" cy="1458.6" r="3.4" fill="#828282"/>
<circle cx="64.9" cy="1465" r="3.4" fill="#828282"/>
<circle cx="74.8" cy="1465.5" r="3.4" fill="#828282"/>
<circle cx="69.8" cy="1465.5" r="3.4" fill="#828282"/>
<circle cx="69.8" cy="1471.4" r="3.4" fill="#828282"/>
<circle cx="72.8" cy="1475.4" r="3.4" fill="#828282"/>
<circle cx="64.9" cy="1478.4" r="3.4" fill="#828282"/>
<circle cx="74.8" cy="1478.4" r="3.4" fill="#828282"/>
<circle cx="69.8" cy="1478.4" r="3.4" fill="#828282"/>
<circle cx="75.3" cy="1482.8" r="3.4" fill="#828282"/>
<circle cx="69.8" cy="1489.7" r="3.4" fill="#828282"/>
<circle cx="64.4" cy="1500.1" r="3.4" fill="#828282"/>
<circle cx="69.8" cy="1505.1" r="3.4" fill="#828282"/>
<circle cx="69.8" cy="1547.6" r="3.4" fill="#828282"/>
<circle cx="104" cy="1371.5" r="3.4" fill="#828282"/>
<circle cx="108.9" cy="1378.1" r="3.4" fill="#828282"/>
<circle cx="108.9" cy="1387.5" r="3.4" fill="#828282"/>
<circle cx="106.2" cy="1390.2" r="3.4" fill="#828282"/>
<circle cx="112.2" cy="1389.7" r="3.4" fill="#828282"/>
<circle cx="104" cy="1395.2" r="3.4" fill="#828282"/>
<circle cx="114.4" cy="1395.2" r="3.4" fill="#828282"/>
<circle cx="108.9" cy="1395.2" r="3.4" fill="#828282"/>
<circle cx="108.9" cy="1400.7" r="3.4" fill="#828282"/>
<circle cx="104" cy="1404.5" r="3.4" fill="#828282"/>
<circle cx="114.4" cy="1404.5" r="3.4" fill="#828282"/>
<circle cx="108.9" cy="1406.2" r="3.4" fill="#828282"/>
<circle cx="108.9" cy="1410.5" r="3.4" fill="#828282"/>
<circle cx="104" cy="1417.1" r="3.4" fill="#828282"/>
<circle cx="114.4" cy="1418.2" r="3.4" fill="#828282"/>
<circle cx="108.9" cy="1419.3" r="3.4" fill="#828282"/>
<circle cx="114.4" cy="1423.7" r="3.4" fill="#828282"/>
<circle cx="108.9" cy="1422.6" r="3.4" fill="#828282"/>
<circle cx="104" cy="1426.5" r="3.4" fill="#828282"/>
<circle cx="108.9" cy="1430.3" r="3.4" fill="#828282"/>
<circle cx="112.2" cy="1433.1" r="3.4" fill="#828282"/>
<circle cx="104" cy="1435.3" r="3.4" fill="#828282"/>
<circle cx="108.9" cy="1441.9" r="3.4" fill="#828282"/>
<circle cx="114.4" cy="1441.3" r="3.4" fill="#828282"/>
<circle cx="114.4" cy="1445.2" r="3.4" fill="#828282"/>
<circle cx="104" cy="1448.5" r="3.4" fill="#828282"/>
<circle cx="108.9" cy="1454.5" r="3.4" fill="#828282"/>
<circle cx="114.4" cy="1466" r="3.4" fill="#828282"/>
<circle cx="108.9" cy="1476.5" r="3.4" fill="#828282"/>
<circle cx="143.4" cy="1393.7" r="3.4" fill="#828282"/>
<circle cx="150.6" cy="1392.6" r="3.4" fill="#828282"/>
<circle cx="153.9" cy="1394.8" r="3.4" fill="#828282"/>
<circle cx="148.4" cy="1399.8" r="3.4" fill="#828282"/>
<circle cx="143.4" cy="1405.8" r="3.4" fill="#828282"/>
<circle cx="153.9" cy="1404.7" r="3.4" fill="#828282"/>
<circle cx="148.4" cy="1405.3" r="3.4" fill="#828282"/>
<circle cx="148.4" cy="1410.8" r="3.4" fill="#828282"/>
<circle cx="143.4" cy="1417.4" r="3.4" fill="#828282"/>
<circle cx="153.9" cy="1417.9" r="3.4" fill="#828282"/>
<circle cx="148.4" cy="1418.5" r="3.4" fill="#828282"/>
<circle cx="148.4" cy="1421.8" r="3.4" fill="#828282"/>
<circle cx="143.4" cy="1427.3" r="3.4" fill="#828282"/>
<circle cx="153.9" cy="1426.2" r="3.4" fill="#828282"/>
<circle cx="148.4" cy="1428.9" r="3.4" fill="#828282"/>
<circle cx="148.4" cy="1433.8" r="3.4" fill="#828282"/>
<circle cx="143.4" cy="1441.5" r="3.4" fill="#828282"/>
<circle cx="153.9" cy="1441" r="3.4" fill="#828282"/>
<circle cx="148.4" cy="1441.5" r="3.4" fill="#828282"/>
<circle cx="143.4" cy="1448.7" r="3.4" fill="#828282"/>
<circle cx="153.9" cy="1448.7" r="3.4" fill="#828282"/>
<circle cx="148.4" cy="1453.6" r="3.4" fill="#828282"/>
<circle cx="147.3" cy="1447.6" r="3.4" fill="#828282"/>
<circle cx="153.3" cy="1465.2" r="3.4" fill="#828282"/>
<circle cx="148.4" cy="1474" r="3.4" fill="#828282"/>
<circle cx="143.4" cy="1411" r="3.4" fill="#828282"/>
<circle cx="153.9" cy="1411" r="3.4" fill="#828282"/>
<circle cx="143.4" cy="1434" r="3.4" fill="#828282"/>
<circle cx="153.9" cy="1434" r="3.4" fill="#828282"/>
<circle cx="182.4" cy="1431.5" r="3.4" fill="#828282"/>
<circle cx="187.3" cy="1437.4" r="3.4" fill="#828282"/>
<circle cx="187.3" cy="1449.8" r="3.4" fill="#828282"/>
<circle cx="184.9" cy="1460.7" r="3.4" fill="#828282"/>
<circle cx="192.8" cy="1466.6" r="3.4" fill="#828282"/>
<circle cx="182.4" cy="1469.6" r="3.4" fill="#828282"/>
<circle cx="187.3" cy="1471.5" r="3.4" fill="#828282"/>
<circle cx="184.9" cy="1472.5" r="3.4" fill="#828282"/>
<circle cx="182.4" cy="1481.4" r="3.4" fill="#828282"/>
<circle cx="192.8" cy="1481.4" r="3.4" fill="#828282"/>
<circle cx="189.3" cy="1481.4" r="3.4" fill="#828282"/>
<circle cx="187.3" cy="1485.4" r="3.4" fill="#828282"/>
<circle cx="182.4" cy="1492.8" r="3.4" fill="#828282"/>
<circle cx="192.8" cy="1492.3" r="3.4" fill="#828282"/>
<circle cx="187.3" cy="1494.3" r="3.4" fill="#828282"/>
<circle cx="189.3" cy="1498.2" r="3.4" fill="#828282"/>
<circle cx="182.4" cy="1503.2" r="3.4" fill="#828282"/>
<circle cx="192.8" cy="1503.7" r="3.4" fill="#828282"/>
<circle cx="187.3" cy="1503.2" r="3.4" fill="#828282"/>
<circle cx="187.3" cy="1507.2" r="3.4" fill="#828282"/>
<circle cx="182.4" cy="1510.6" r="3.4" fill="#828282"/>
<circle cx="192.8" cy="1510.1" r="3.4" fill="#828282"/>
<circle cx="187.3" cy="1511.1" r="3.4" fill="#828282"/>
<circle cx="187.3" cy="1515.1" r="3.4" fill="#828282"/>
<circle cx="182.4" cy="1522" r="3.4" fill="#828282"/>
<circle cx="190.3" cy="1521" r="3.4" fill="#828282"/>
<circle cx="192.8" cy="1525" r="3.4" fill="#828282"/>
<circle cx="187.3" cy="1526" r="3.4" fill="#828282"/>
<circle cx="187.3" cy="1488.5" r="3.4" fill="#828282"/>
<circle cx="187.3" cy="1499" r="3.4" fill="#828282"/>
<circle cx="187.3" cy="1519" r="3.4" fill="#828282"/>
<circle cx="184.5" cy="1477" r="3.4" fill="#828282"/>
<circle cx="227" cy="1396.5" r="3.4" fill="#828282"/>
<circle cx="224.3" cy="1420.2" r="3.4" fill="#828282"/>
<circle cx="232" cy="1420.2" r="3.4" fill="#828282"/>
<circle cx="221.5" cy="1424" r="3.4" fill="#828282"/>
<circle cx="232" cy="1422.4" r="3.4" fill="#828282"/>
<circle cx="227" cy="1425.7" r="3.4" fill="#828282"/>
<circle cx="227" cy="1431.2" r="3.4" fill="#828282"/>
<circle cx="221.5" cy="1436.1" r="3.4" fill="#828282"/>
<circle cx="232" cy="1436.6" r="3.4" fill="#828282"/>
<circle cx="227" cy="1437.7" r="3.4" fill="#828282"/>
<circle cx="227" cy="1442.1" r="3.4" fill="#828282"/>
<circle cx="221.5" cy="1448.7" r="3.4" fill="#828282"/>
<circle cx="232" cy="1448.7" r="3.4" fill="#828282"/>
<circle cx="227" cy="1450.9" r="3.4" fill="#828282"/>
<circle cx="227" cy="1454.2" r="3.4" fill="#828282"/>
<circle cx="221.5" cy="1457.5" r="3.4" fill="#828282"/>
<circle cx="232" cy="1457.5" r="3.4" fill="#828282"/>
<circle cx="227" cy="1461.9" r="3.4" fill="#828282"/>
<circle cx="224.3" cy="1465.2" r="3.4" fill="#828282"/>
<circle cx="232" cy="1466.9" r="3.4" fill="#828282"/>
<circle cx="221.5" cy="1469.6" r="3.4" fill="#828282"/>
<circle cx="227" cy="1471.3" r="3.4" fill="#828282"/>
<circle cx="232" cy="1483.4" r="3.4" fill="#828282"/>
<circle cx="227" cy="1490" r="3.4" fill="#828282"/>
<circle cx="221.5" cy="1430" r="3.4" fill="#828282"/>
<circle cx="232" cy="1430" r="3.4" fill="#828282"/>
<circle cx="221.5" cy="1442" r="3.4" fill="#828282"/>
<circle cx="232" cy="1442" r="3.4" fill="#828282"/>
<circle cx="266.3" cy="1466" r="3.4" fill="#828282"/>
<circle cx="266.3" cy="1492.4" r="3.4" fill="#828282"/>
<circle cx="263.2" cy="1501.2" r="3.4" fill="#828282"/>
<circle cx="269.2" cy="1499" r="3.4" fill="#828282"/>
<circle cx="261" cy="1505.6" r="3.4" fill="#828282"/>
<circle cx="271.4" cy="1505.1" r="3.4" fill="#828282"/>
<circle cx="266.3" cy="1507.8" r="3.4" fill="#828282"/>
<circle cx="261" cy="1516.6" r="3.4" fill="#828282"/>
<circle cx="269.2" cy="1516" r="3.4" fill="#828282"/>
<circle cx="271.4" cy="1518.8" r="3.4" fill="#828282"/>
<circle cx="266.3" cy="1521.5" r="3.4" fill="#828282"/>
<circle cx="261" cy="1532" r="3.4" fill="#828282"/>
<circle cx="269.2" cy="1530.3" r="3.4" fill="#828282"/>
<circle cx="265.4" cy="1529.8" r="3.4" fill="#828282"/>
<circle cx="266.3" cy="1539.1" r="3.4" fill="#828282"/>
<circle cx="261" cy="1549.6" r="3.4" fill="#828282"/>
<circle cx="271.4" cy="1550.1" r="3.4" fill="#828282"/>
<circle cx="266.3" cy="1552.3" r="3.4" fill="#828282"/>
<circle cx="261" cy="1558.4" r="3.4" fill="#828282"/>
<circle cx="271.4" cy="1558.4" r="3.4" fill="#828282"/>
<circle cx="266.3" cy="1558.9" r="3.4" fill="#828282"/>
<circle cx="266.3" cy="1562.7" r="3.4" fill="#828282"/>
<circle cx="263.2" cy="1567.1" r="3.4" fill="#828282"/>
<circle cx="261" cy="1573.7" r="3.4" fill="#828282"/>
<circle cx="271.4" cy="1573.2" r="3.4" fill="#828282"/>
<circle cx="266.3" cy="1575.4" r="3.4" fill="#828282"/>
<circle cx="269.2" cy="1571" r="3.4" fill="#828282"/>
<circle cx="271.4" cy="1586.9" r="3.4" fill="#828282"/>
<circle cx="261" cy="1594.1" r="3.4" fill="#828282"/>
<circle cx="266.3" cy="1595.7" r="3.4" fill="#828282"/>
<circle cx="266.3" cy="1621" r="3.4" fill="#828282"/>
<circle cx="300.1" cy="1397.6" r="3.4" fill="#828282"/>
<circle cx="305.6" cy="1398.7" r="3.4" fill="#828282"/>
<circle cx="310.5" cy="1397.6" r="3.4" fill="#828282"/>
<circle cx="303.4" cy="1405.8" r="3.4" fill="#828282"/>
<circle cx="310" cy="1406.4" r="3.4" fill="#828282"/>
<circle cx="300.1" cy="1409.7" r="3.4" fill="#828282"/>
<circle cx="310" cy="1409.1" r="3.4" fill="#828282"/>
<circle cx="305.6" cy="1410.8" r="3.4" fill="#828282"/>
<circle cx="305.6" cy="1415.2" r="3.4" fill="#828282"/>
<circle cx="300.1" cy="1419.6" r="3.4" fill="#828282"/>
<circle cx="310.5" cy="1420.1" r="3.4" fill="#828282"/>
<circle cx="305.6" cy="1421.8" r="3.4" fill="#828282"/>
<circle cx="305.6" cy="1426.2" r="3.4" fill="#828282"/>
<circle cx="301.2" cy="1428.9" r="3.4" fill="#828282"/>
<circle cx="310.5" cy="1428.4" r="3.4" fill="#828282"/>
<circle cx="300.1" cy="1432.2" r="3.4" fill="#828282"/>
<circle cx="305.6" cy="1434.9" r="3.4" fill="#828282"/>
<circle cx="300.1" cy="1440.4" r="3.4" fill="#828282"/>
<circle cx="310.5" cy="1441" r="3.4" fill="#828282"/>
<circle cx="305.6" cy="1442.6" r="3.4" fill="#828282"/>
<circle cx="303.9" cy="1449.2" r="3.4" fill="#828282"/>
<circle cx="300.1" cy="1454.7" r="3.4" fill="#828282"/>
<circle cx="310" cy="1453.1" r="3.4" fill="#828282"/>
<circle cx="305.6" cy="1452.5" r="3.4" fill="#828282"/>
<circle cx="305.6" cy="1458.6" r="3.4" fill="#828282"/>
<circle cx="310.5" cy="1466.8" r="3.4" fill="#828282"/>
<circle cx="305.6" cy="1471.2" r="3.4" fill="#828282"/>
<circle cx="305.6" cy="1485.5" r="3.4" fill="#828282"/>
<circle cx="305.6" cy="1532.2" r="3.4" fill="#828282"/>
<circle cx="344.5" cy="1427.2" r="3.4" fill="#828282"/>
<circle cx="344.5" cy="1437.6" r="3.4" fill="#828282"/>
<circle cx="344.5" cy="1453" r="3.4" fill="#828282"/>
<circle cx="350" cy="1462.9" r="3.4" fill="#828282"/>
<circle cx="344.5" cy="1470.1" r="3.4" fill="#828282"/>
<circle cx="341.2" cy="1475.5" r="3.4" fill="#828282"/>
<circle cx="347.8" cy="1474.5" r="3.4" fill="#828282"/>
<circle cx="339" cy="1481.6" r="3.4" fill="#828282"/>
<circle cx="350" cy="1481" r="3.4" fill="#828282"/>
<circle cx="344.5" cy="1482.1" r="3.4" fill="#828282"/>
<circle cx="344.5" cy="1486.5" r="3.4" fill="#828282"/>
<circle cx="339" cy="1490.4" r="3.4" fill="#828282"/>
<circle cx="350" cy="1490.9" r="3.4" fill="#828282"/>
<circle cx="344.5" cy="1492" r="3.4" fill="#828282"/>
<circle cx="344.5" cy="1497.5" r="3.4" fill="#828282"/>
<circle cx="339" cy="1505.8" r="3.4" fill="#828282"/>
<circle cx="350" cy="1505.8" r="3.4" fill="#828282"/>
<circle cx="344.5" cy="1506.3" r="3.4" fill="#828282"/>
<circle cx="344.5" cy="1511.8" r="3.4" fill="#828282"/>
<circle cx="339" cy="1519.5" r="3.4" fill="#828282"/>
<circle cx="350" cy="1520.1" r="3.4" fill="#828282"/>
<circle cx="344.5" cy="1520.6" r="3.4" fill="#828282"/>
<circle cx="350" cy="1527.7" r="3.4" fill="#828282"/>
<circle cx="339" cy="1532.1" r="3.4" fill="#828282"/>
<circle cx="344.5" cy="1533.2" r="3.4" fill="#828282"/>
<circle cx="339" cy="1538.7" r="3.4" fill="#828282"/>
<circle cx="350" cy="1539.3" r="3.4" fill="#828282"/>
<circle cx="347.2" cy="1536" r="3.4" fill="#828282"/>
<circle cx="344.5" cy="1545.9" r="3.4" fill="#828282"/>
<circle cx="339" cy="1512.5" r="3.4" fill="#828282"/>
<circle cx="350" cy="1512.5" r="3.4" fill="#828282"/>
<circle cx="344.5" cy="1515.8" r="3.4" fill="#828282"/>
<circle cx="344.5" cy="1501" r="3.4" fill="#828282"/>
<circle cx="383.9" cy="1442.7" r="3.4" fill="#828282"/>
<circle cx="389.4" cy="1451.3" r="3.4" fill="#828282"/>
<circle cx="383.9" cy="1459.7" r="3.4" fill="#828282"/>
<circle cx="383.9" cy="1472.9" r="3.4" fill="#828282"/>
<circle cx="387.2" cy="1475.7" r="3.4" fill="#828282"/>
<circle cx="379" cy="1479.5" r="3.4" fill="#828282"/>
<circle cx="389.4" cy="1482.8" r="3.4" fill="#828282"/>
<circle cx="383.9" cy="1484.5" r="3.4" fill="#828282"/>
<circle cx="389.4" cy="1495.4" r="3.4" fill="#828282"/>
<circle cx="379" cy="1498.7" r="3.4" fill="#828282"/>
<circle cx="383.9" cy="1503.7" r="3.4" fill="#828282"/>
<circle cx="381.2" cy="1509.7" r="3.4" fill="#828282"/>
<circle cx="387.2" cy="1508.6" r="3.4" fill="#828282"/>
<circle cx="379" cy="1514.1" r="3.4" fill="#828282"/>
<circle cx="389.4" cy="1514.7" r="3.4" fill="#828282"/>
<circle cx="383.9" cy="1514.1" r="3.4" fill="#828282"/>
<circle cx="383.9" cy="1520.7" r="3.4" fill="#828282"/>
<circle cx="379" cy="1528.4" r="3.4" fill="#828282"/>
<circle cx="389.4" cy="1528.4" r="3.4" fill="#828282"/>
<circle cx="383.9" cy="1529.5" r="3.4" fill="#828282"/>
<circle cx="383.9" cy="1533.9" r="3.4" fill="#828282"/>
<circle cx="379" cy="1536.1" r="3.4" fill="#828282"/>
<circle cx="389.4" cy="1537.7" r="3.4" fill="#828282"/>
<circle cx="383.9" cy="1539.4" r="3.4" fill="#828282"/>
<circle cx="388.9" cy="1543.2" r="3.4" fill="#828282"/>
<circle cx="379" cy="1547.1" r="3.4" fill="#828282"/>
<circle cx="383.9" cy="1551.5" r="3.4" fill="#828282"/>
<circle cx="379" cy="1556.4" r="3.4" fill="#828282"/>
<circle cx="389.4" cy="1561.4" r="3.4" fill="#828282"/>
<circle cx="383.9" cy="1566.3" r="3.4" fill="#828282"/>
<circle cx="389.4" cy="1522" r="3.4" fill="#828282"/>
<circle cx="379" cy="1521" r="3.4" fill="#828282"/>
<circle cx="423.1" cy="1417.2" r="3.4" fill="#828282"/>
<circle cx="417.6" cy="1424.3" r="3.4" fill="#828282"/>
<circle cx="423.1" cy="1428.7" r="3.4" fill="#828282"/>
<circle cx="425.9" cy="1430.9" r="3.4" fill="#828282"/>
<circle cx="417.6" cy="1435.3" r="3.4" fill="#828282"/>
<circle cx="428.6" cy="1435.3" r="3.4" fill="#828282"/>
<circle cx="423.1" cy="1438.6" r="3.4" fill="#828282"/>
<circle cx="428.6" cy="1442.5" r="3.4" fill="#828282"/>
<circle cx="417.6" cy="1447.4" r="3.4" fill="#828282"/>
<circle cx="423.1" cy="1451.8" r="3.4" fill="#828282"/>
<circle cx="417.6" cy="1459" r="3.4" fill="#828282"/>
<circle cx="428.6" cy="1459.5" r="3.4" fill="#828282"/>
<circle cx="423.1" cy="1456.8" r="3.4" fill="#828282"/>
<circle cx="423.1" cy="1461.2" r="3.4" fill="#828282"/>
<circle cx="417.6" cy="1466.6" r="3.4" fill="#828282"/>
<circle cx="423.1" cy="1474.3" r="3.4" fill="#828282"/>
<circle cx="420.4" cy="1477.6" r="3.4" fill="#828282"/>
<circle cx="417.6" cy="1484.8" r="3.4" fill="#828282"/>
<circle cx="427" cy="1484.2" r="3.4" fill="#828282"/>
<circle cx="423.1" cy="1486.4" r="3.4" fill="#828282"/>
<circle cx="428.6" cy="1490.3" r="3.4" fill="#828282"/>
<circle cx="420.4" cy="1488.6" r="3.4" fill="#828282"/>
<circle cx="417.6" cy="1494.7" r="3.4" fill="#828282"/>
<circle cx="423.1" cy="1498" r="3.4" fill="#828282"/>
<circle cx="420.4" cy="1504" r="3.4" fill="#828282"/>
<circle cx="417.6" cy="1510.6" r="3.4" fill="#828282"/>
<circle cx="425.9" cy="1508.4" r="3.4" fill="#828282"/>
<circle cx="428.6" cy="1512.3" r="3.4" fill="#828282"/>
<circle cx="423.1" cy="1513.9" r="3.4" fill="#828282"/>
<circle cx="417.6" cy="1524.3" r="3.4" fill="#828282"/>
<circle cx="423.1" cy="1524.9" r="3.4" fill="#828282"/>
<circle cx="428.6" cy="1521.6" r="3.4" fill="#828282"/>
<circle cx="428.6" cy="1528.7" r="3.4" fill="#828282"/>
<circle cx="423.1" cy="1538.1" r="3.4" fill="#828282"/>
<line x1="25" y1="1501.5" x2="36.7" y2="1501.5" stroke="#000" stroke-width="2"/>
<line x1="63.9" y1="1461.3" x2="75.8" y2="1461.3" stroke="#000" stroke-width="2"/>
<line x1="102.9" y1="1414.6" x2="115" y2="1414.6" stroke="#000" stroke-width="2"/>
<line x1="142.3" y1="1425.1" x2="154.4" y2="1425.1" stroke="#000" stroke-width="2"/>
<line x1="181.4" y1="1491.5" x2="193.8" y2="1491.5" stroke="#000" stroke-width="2"/>
<line x1="221" y1="1446" x2="233.1" y2="1446" stroke="#000" stroke-width="2"/>
<line x1="259.9" y1="1544.1" x2="272" y2="1544.1" stroke="#000" stroke-width="2"/>
<line x1="299" y1="1431.9" x2="311.6" y2="1431.9" stroke="#000" stroke-width="2"/>
<line x1="339" y1="1501.4" x2="351.1" y2="1501.4" stroke="#000" stroke-width="2"/>
<line x1="377.9" y1="1513.8" x2="391.1" y2="1513.8" stroke="#000" stroke-width="2"/>
<line x1="417.1" y1="1471" x2="429.7" y2="1471" stroke="#000" stroke-width="2"/>
<polygon points="50.3,1379.9 46.9,1386.5 53.7,1386.5" fill="#000"/>
<polygon points="55.5,1388.2 52.1,1394.8 58.9,1394.8" fill="#000"/>
<polygon points="50.3,1394.2 46.9,1400.8 53.7,1400.8" fill="#000"/>
<polygon points="50.3,1424.5 46.9,1431 53.7,1431" fill="#000"/>
<polygon points="50.3,1450.3 46.9,1456.9 53.7,1456.9" fill="#000"/>
<polygon points="89.4,1413.3 85.95,1419.8 92.85,1419.8" fill="#000"/>
<polygon points="89.4,1434.2 85.95,1440.6 92.85,1440.6" fill="#000"/>
<polygon points="84.1,1452 80.65,1458.4 87.55,1458.4" fill="#000"/>
<polygon points="89.4,1455 85.95,1461.4 92.85,1461.4" fill="#000"/>
<polygon points="89.4,1492.8 85.95,1499.3 92.85,1499.3" fill="#000"/>
<polygon points="123.4,1385 120.1,1391.4 126.7,1391.4" fill="#000"/>
<polygon points="128.7,1388.2 125.4,1394.6 132,1394.6" fill="#000"/>
<polygon points="128.7,1400 125.4,1406.2 132,1406.2" fill="#000"/>
<polygon points="128.7,1427.5 125.4,1433.9 132,1433.9" fill="#000"/>
<polygon points="128.7,1438.5 125.4,1444.9 132,1444.9" fill="#000"/>
<polygon points="162.7,1391 158.6,1399 166.8,1399" fill="#000"/>
<polygon points="167.9,1400.1 163.8,1407.9 172,1407.9" fill="#000"/>
<polygon points="167.9,1411 163.8,1419 172,1419" fill="#000"/>
<polygon points="167.9,1446.3 163.8,1454.5 172,1454.5" fill="#000"/>
<polygon points="167.9,1466.6 163.8,1474.8 172,1474.8" fill="#000"/>
<polygon points="246.5,1416.8 243,1423.4 250,1423.4" fill="#000"/>
<polygon points="246.5,1453.3 243,1459.9 250,1459.9" fill="#000"/>
<polygon points="285.7,1533 282,1540.2 289.4,1540.2" fill="#000"/>
<polygon points="285.7,1575.6 282,1582.6 289.4,1582.6" fill="#000"/>
<polygon points="324.8,1407 321.3,1413.4 328.3,1413.4" fill="#000"/>
<polygon points="324.8,1496 321.3,1502.6 328.3,1502.6" fill="#000"/>
<polygon points="364.3,1493.7 360.8,1499.9 367.8,1499.9" fill="#000"/>
<polygon points="364.3,1514.8 360.8,1521.4 367.8,1521.4" fill="#000"/>
<polygon points="408.9,1516 405.5,1521.6 412.3,1521.6" fill="#000"/>
<polygon points="403.7,1523.3 400.3,1529.1 407.1,1529.1" fill="#000"/>
<polygon points="442.9,1474.6 439.4,1481 446.4,1481" fill="#000"/>
<polygon points="442.9,1499.1 439.4,1505.7 446.4,1505.7" fill="#000"/>
<line x1="50.3" y1="1397.5" x2="50.3" y2="1423.6" stroke="#000" stroke-width="1.7"/>
<line x1="46.7" y1="1397.5" x2="53.9" y2="1397.5" stroke="#000" stroke-width="1.7"/>
<line x1="46.7" y1="1423.6" x2="53.9" y2="1423.6" stroke="#000" stroke-width="1.7"/>
<line x1="44.05" y1="1410.6" x2="56.55" y2="1410.6" stroke="#000" stroke-width="1.7"/>
<line x1="89.4" y1="1439.4" x2="89.4" y2="1466.1" stroke="#000" stroke-width="1.7"/>
<line x1="85.6" y1="1439.4" x2="93.2" y2="1439.4" stroke="#000" stroke-width="1.7"/>
<line x1="85.6" y1="1466.1" x2="93.2" y2="1466.1" stroke="#000" stroke-width="1.7"/>
<line x1="83.1" y1="1452.8" x2="95.7" y2="1452.8" stroke="#000" stroke-width="1.7"/>
<line x1="128.7" y1="1400.2" x2="128.7" y2="1421.7" stroke="#000" stroke-width="1.7"/>
<line x1="124.7" y1="1400.2" x2="132.7" y2="1400.2" stroke="#000" stroke-width="1.7"/>
<line x1="124.7" y1="1421.7" x2="132.7" y2="1421.7" stroke="#000" stroke-width="1.7"/>
<line x1="122.4" y1="1411" x2="135" y2="1411" stroke="#000" stroke-width="1.7"/>
<line x1="167.9" y1="1412.7" x2="167.9" y2="1441.3" stroke="#000" stroke-width="1.7"/>
<line x1="164.1" y1="1412.7" x2="171.7" y2="1412.7" stroke="#000" stroke-width="1.7"/>
<line x1="164.1" y1="1441.3" x2="171.7" y2="1441.3" stroke="#000" stroke-width="1.7"/>
<line x1="161.85" y1="1427" x2="173.95" y2="1427" stroke="#000" stroke-width="1.7"/>
<line x1="207.1" y1="1450.3" x2="207.1" y2="1483.9" stroke="#000" stroke-width="1.7"/>
<line x1="200.95" y1="1466.9" x2="213.25" y2="1466.9" stroke="#000" stroke-width="1.7"/>
<line x1="246.5" y1="1420" x2="246.5" y2="1456.2" stroke="#000" stroke-width="1.7"/>
<line x1="242.5" y1="1420" x2="250.5" y2="1420" stroke="#000" stroke-width="1.7"/>
<line x1="242.5" y1="1456.2" x2="250.5" y2="1456.2" stroke="#000" stroke-width="1.7"/>
<line x1="240.15" y1="1438.3" x2="252.85" y2="1438.3" stroke="#000" stroke-width="1.7"/>
<line x1="285.7" y1="1536.4" x2="285.7" y2="1577.4" stroke="#000" stroke-width="1.7"/>
<line x1="281.7" y1="1536.4" x2="289.7" y2="1536.4" stroke="#000" stroke-width="1.7"/>
<line x1="281.7" y1="1577.4" x2="289.7" y2="1577.4" stroke="#000" stroke-width="1.7"/>
<line x1="279.55" y1="1557.2" x2="291.85" y2="1557.2" stroke="#000" stroke-width="1.7"/>
<line x1="324.8" y1="1410.2" x2="324.8" y2="1500" stroke="#000" stroke-width="1.7"/>
<line x1="320.8" y1="1410.2" x2="328.8" y2="1410.2" stroke="#000" stroke-width="1.7"/>
<line x1="320.8" y1="1500" x2="328.8" y2="1500" stroke="#000" stroke-width="1.7"/>
<line x1="318.5" y1="1454.9" x2="331.1" y2="1454.9" stroke="#000" stroke-width="1.7"/>
<line x1="364.3" y1="1496.9" x2="364.3" y2="1518.3" stroke="#000" stroke-width="1.7"/>
<line x1="360.3" y1="1496.9" x2="368.3" y2="1496.9" stroke="#000" stroke-width="1.7"/>
<line x1="360.3" y1="1518.3" x2="368.3" y2="1518.3" stroke="#000" stroke-width="1.7"/>
<line x1="357.95" y1="1507.2" x2="370.65" y2="1507.2" stroke="#000" stroke-width="1.7"/>
<line x1="404" y1="1518.8" x2="404" y2="1525.7" stroke="#000" stroke-width="1.7"/>
<line x1="400.7" y1="1518.8" x2="407.3" y2="1518.8" stroke="#000" stroke-width="1.7"/>
<line x1="400.7" y1="1525.7" x2="407.3" y2="1525.7" stroke="#000" stroke-width="1.7"/>
<line x1="399.35" y1="1522" x2="408.65" y2="1522" stroke="#000" stroke-width="1.7"/>
<line x1="442.9" y1="1477.6" x2="442.9" y2="1502.4" stroke="#000" stroke-width="1.7"/>
<line x1="438.9" y1="1477.6" x2="446.9" y2="1477.6" stroke="#000" stroke-width="1.7"/>
<line x1="438.9" y1="1502.4" x2="446.9" y2="1502.4" stroke="#000" stroke-width="1.7"/>
<line x1="436.75" y1="1489.7" x2="449.05" y2="1489.7" stroke="#000" stroke-width="1.7"/>
<polygon points="207.1,1446.8 210.6,1450.3 207.1,1453.8 203.6,1450.3" fill="#fff" stroke="#000" stroke-width="2.5"/>
<polygon points="207.1,1480.4 210.6,1483.9 207.1,1487.4 203.6,1483.9" fill="#fff" stroke="#000" stroke-width="2.5"/>
</svg>
</body></html>
